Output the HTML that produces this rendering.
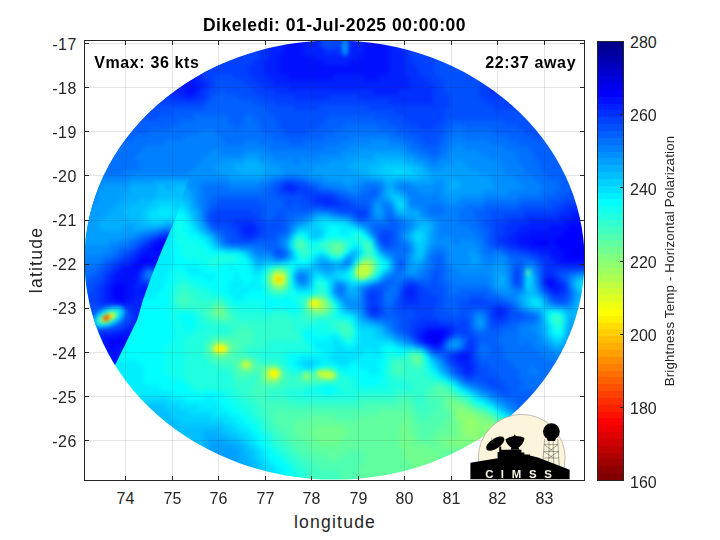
<!DOCTYPE html>
<html><head><meta charset="utf-8"><title>plot</title>
<style>
html,body{margin:0;padding:0;background:#fff;overflow:hidden;}
body{width:720px;height:540px;position:relative;overflow:hidden;font-family:"Liberation Sans",sans-serif;color:#262626;}
svg{position:absolute;left:0;top:0;}
.t{position:absolute;white-space:nowrap;line-height:20px;font-size:16px;}
.xt{top:489px;width:40px;text-align:center;}
.yt{left:29.2px;width:47.5px;text-align:right;letter-spacing:0.4px;}
.ct{left:630px;}
.b{font-weight:bold;color:#000;}
</style></head><body>
<svg width="720" height="540" viewBox="0 0 720 540">
<defs>
<clipPath id="ell"><ellipse cx="334.5" cy="260.0" rx="250.0" ry="219.6"/></clipPath>
<clipPath id="lsw"><polygon points="60,50 226,50 222.7,72 219,103 208,135 196,162 187.9,180 175.7,218.2 161.9,250 150.6,278.5 143,300 137.2,320 115.1,364.9 108,385 60,385"/></clipPath>
<filter id="bl" x="-5%" y="-5%" width="110%" height="110%" color-interpolation-filters="sRGB"><feGaussianBlur stdDeviation="2.2"/></filter>
<filter id="sb" x="-50%" y="-50%" width="200%" height="200%" color-interpolation-filters="sRGB"><feGaussianBlur stdDeviation="2.2"/></filter>
<linearGradient id="cb" x1="0" y1="0" x2="0" y2="1"><stop offset="0.000" stop-color="#000080"/><stop offset="0.125" stop-color="#0000ff"/><stop offset="0.375" stop-color="#00ffff"/><stop offset="0.625" stop-color="#ffff00"/><stop offset="0.875" stop-color="#ff0000"/><stop offset="1.000" stop-color="#800000"/></linearGradient>
</defs>
<g clip-path="url(#ell)">
<g filter="url(#bl)">
<g transform="translate(64,20) scale(5)" shape-rendering="crispEdges">
<path fill="#0000ef" d="M102 46h6v1h-6zM73 63h2v1h-2zM74 64h1v1h-1z"/>
<path fill="#0000ff" d="M101 41h7v1h-7zM100 42h8v1h-8zM99 43h9v1h-9zM94 44h3v1h-3zM98 44h10v1h-10zM99 45h9v1h-9zM100 46h2v1h-2zM100 47h8v1h-8zM97 52h1v1h-1zM73 62h3v1h-3zM72 63h1v1h-1zM75 63h1v1h-1zM73 64h1v1h-1z"/>
<path fill="#0010ff" d="M44 0h4v1h-4zM60 0h5v1h-5zM44 1h4v1h-4zM60 1h5v1h-5zM44 2h4v1h-4zM60 2h5v1h-5zM44 3h4v1h-4zM60 3h5v1h-5zM44 4h4v1h-4zM60 4h5v1h-5zM44 5h4v1h-4zM60 5h5v1h-5zM44 6h4v1h-4zM60 6h5v1h-5zM43 7h7v1h-7zM59 7h6v1h-6zM43 8h9v1h-9zM57 8h8v1h-8zM43 9h22v1h-22zM43 10h22v1h-22zM45 11h9v1h-9zM60 11h3v1h-3zM24 12h2v1h-2zM24 13h3v1h-3zM24 14h2v1h-2zM102 39h6v1h-6zM100 40h8v1h-8zM97 41h4v1h-4zM93 42h7v1h-7zM91 43h8v1h-8zM91 44h3v1h-3zM97 44h1v1h-1zM93 45h6v1h-6zM97 46h3v1h-3zM98 47h2v1h-2zM99 48h9v1h-9zM96 52h1v1h-1zM97 53h2v1h-2zM72 62h1v1h-1zM76 62h1v1h-1zM71 63h1v1h-1zM72 64h1v1h-1zM75 64h1v1h-1zM79 67h2v1h-2z"/>
<path fill="#0020ff" d="M13 0h5v1h-5zM41 0h3v1h-3zM48 0h3v1h-3zM57 0h3v1h-3zM65 0h2v1h-2zM13 1h5v1h-5zM41 1h3v1h-3zM48 1h3v1h-3zM57 1h3v1h-3zM65 1h2v1h-2zM13 2h5v1h-5zM41 2h3v1h-3zM48 2h3v1h-3zM57 2h3v1h-3zM65 2h2v1h-2zM13 3h5v1h-5zM41 3h3v1h-3zM48 3h3v1h-3zM57 3h3v1h-3zM65 3h2v1h-2zM13 4h5v1h-5zM41 4h3v1h-3zM48 4h3v1h-3zM57 4h3v1h-3zM65 4h2v1h-2zM13 5h5v1h-5zM41 5h3v1h-3zM48 5h4v1h-4zM56 5h4v1h-4zM65 5h2v1h-2zM14 6h5v1h-5zM41 6h3v1h-3zM48 6h4v1h-4zM56 6h4v1h-4zM65 6h3v1h-3zM15 7h5v1h-5zM41 7h2v1h-2zM50 7h9v1h-9zM65 7h3v1h-3zM16 8h6v1h-6zM40 8h3v1h-3zM52 8h5v1h-5zM65 8h3v1h-3zM17 9h6v1h-6zM40 9h3v1h-3zM65 9h3v1h-3zM18 10h7v1h-7zM40 10h3v1h-3zM65 10h3v1h-3zM19 11h8v1h-8zM41 11h4v1h-4zM54 11h6v1h-6zM63 11h6v1h-6zM20 12h4v1h-4zM26 12h2v1h-2zM42 12h27v1h-27zM21 13h3v1h-3zM27 13h1v1h-1zM45 13h24v1h-24zM22 14h2v1h-2zM26 14h1v1h-1zM62 14h5v1h-5zM24 15h2v1h-2zM44 33h2v1h-2zM52 36h1v1h-1zM101 38h7v1h-7zM99 39h3v1h-3zM93 40h7v1h-7zM36 41h2v1h-2zM91 41h6v1h-6zM36 42h2v1h-2zM90 42h3v1h-3zM89 43h2v1h-2zM89 44h2v1h-2zM91 45h2v1h-2zM95 46h2v1h-2zM97 47h1v1h-1zM98 48h1v1h-1zM96 51h2v1h-2zM98 52h1v1h-1zM69 53h1v1h-1zM99 53h1v1h-1zM68 54h2v1h-2zM98 54h1v1h-1zM69 55h1v1h-1zM86 58h2v1h-2zM72 61h5v1h-5zM71 62h1v1h-1zM77 62h1v1h-1zM76 63h1v1h-1zM74 65h1v1h-1zM80 66h1v1h-1zM78 67h1v1h-1zM79 68h2v1h-2zM80 69h2v1h-2zM80 70h1v1h-1z"/>
<path fill="#0030ff" d="M10 0h3v1h-3zM18 0h7v1h-7zM39 0h2v1h-2zM51 0h6v1h-6zM67 0h2v1h-2zM90 0h8v1h-8zM10 1h3v1h-3zM18 1h7v1h-7zM39 1h2v1h-2zM51 1h6v1h-6zM67 1h2v1h-2zM90 1h8v1h-8zM10 2h3v1h-3zM18 2h7v1h-7zM39 2h2v1h-2zM51 2h6v1h-6zM67 2h2v1h-2zM90 2h8v1h-8zM10 3h3v1h-3zM18 3h7v1h-7zM39 3h2v1h-2zM51 3h6v1h-6zM67 3h2v1h-2zM90 3h8v1h-8zM10 4h3v1h-3zM18 4h7v1h-7zM39 4h2v1h-2zM51 4h6v1h-6zM67 4h2v1h-2zM90 4h8v1h-8zM10 5h3v1h-3zM18 5h7v1h-7zM39 5h2v1h-2zM52 5h4v1h-4zM67 5h2v1h-2zM90 5h8v1h-8zM10 6h4v1h-4zM19 6h7v1h-7zM39 6h2v1h-2zM52 6h4v1h-4zM68 6h1v1h-1zM90 6h8v1h-8zM11 7h4v1h-4zM20 7h6v1h-6zM39 7h2v1h-2zM68 7h1v1h-1zM89 7h8v1h-8zM12 8h4v1h-4zM22 8h5v1h-5zM38 8h2v1h-2zM68 8h2v1h-2zM88 8h8v1h-8zM14 9h3v1h-3zM23 9h4v1h-4zM37 9h3v1h-3zM68 9h3v1h-3zM88 9h6v1h-6zM15 10h3v1h-3zM25 10h3v1h-3zM37 10h3v1h-3zM68 10h3v1h-3zM87 10h6v1h-6zM16 11h3v1h-3zM27 11h1v1h-1zM38 11h3v1h-3zM69 11h3v1h-3zM86 11h6v1h-6zM17 12h3v1h-3zM28 12h1v1h-1zM39 12h3v1h-3zM69 12h4v1h-4zM85 12h6v1h-6zM18 13h3v1h-3zM28 13h1v1h-1zM40 13h5v1h-5zM69 13h5v1h-5zM85 13h4v1h-4zM19 14h3v1h-3zM27 14h1v1h-1zM42 14h20v1h-20zM67 14h7v1h-7zM85 14h4v1h-4zM21 15h3v1h-3zM26 15h2v1h-2zM46 15h7v1h-7zM59 15h15v1h-15zM65 16h9v1h-9zM46 33h1v1h-1zM45 34h1v1h-1zM50 35h4v1h-4zM50 36h2v1h-2zM53 36h2v1h-2zM103 36h5v1h-5zM100 37h8v1h-8zM99 38h2v1h-2zM92 39h7v1h-7zM34 40h4v1h-4zM89 40h4v1h-4zM35 41h1v1h-1zM38 41h1v1h-1zM88 41h3v1h-3zM35 42h1v1h-1zM38 42h1v1h-1zM88 42h2v1h-2zM36 43h2v1h-2zM87 43h2v1h-2zM87 44h2v1h-2zM89 45h2v1h-2zM93 46h2v1h-2zM95 47h2v1h-2zM96 48h2v1h-2zM96 49h12v1h-12zM96 50h2v1h-2zM98 51h1v1h-1zM99 52h1v1h-1zM68 53h1v1h-1zM70 53h1v1h-1zM96 53h1v1h-1zM70 54h1v1h-1zM97 54h1v1h-1zM99 54h1v1h-1zM61 55h1v1h-1zM68 55h1v1h-1zM70 55h1v1h-1zM68 56h3v1h-3zM61 57h2v1h-2zM86 57h2v1h-2zM61 58h2v1h-2zM88 58h1v1h-1zM86 59h2v1h-2zM71 60h4v1h-4zM70 61h2v1h-2zM77 61h1v1h-1zM70 62h1v1h-1zM70 63h1v1h-1zM71 64h1v1h-1zM81 64h1v1h-1zM73 65h1v1h-1zM75 65h1v1h-1zM81 65h1v1h-1zM79 66h1v1h-1zM81 66h1v1h-1zM77 67h1v1h-1zM81 67h1v1h-1zM78 68h1v1h-1zM81 68h1v1h-1zM79 69h1v1h-1zM81 70h1v1h-1z"/>
<path fill="#0040ff" d="M7 0h3v1h-3zM25 0h14v1h-14zM69 0h7v1h-7zM84 0h6v1h-6zM98 0h10v1h-10zM7 1h3v1h-3zM25 1h14v1h-14zM69 1h7v1h-7zM84 1h6v1h-6zM98 1h10v1h-10zM7 2h3v1h-3zM25 2h14v1h-14zM69 2h7v1h-7zM84 2h6v1h-6zM98 2h10v1h-10zM7 3h3v1h-3zM25 3h14v1h-14zM69 3h8v1h-8zM84 3h6v1h-6zM98 3h10v1h-10zM7 4h3v1h-3zM25 4h14v1h-14zM69 4h8v1h-8zM84 4h6v1h-6zM98 4h10v1h-10zM7 5h3v1h-3zM25 5h14v1h-14zM69 5h7v1h-7zM84 5h6v1h-6zM98 5h10v1h-10zM7 6h3v1h-3zM26 6h13v1h-13zM69 6h7v1h-7zM83 6h7v1h-7zM98 6h10v1h-10zM8 7h3v1h-3zM26 7h13v1h-13zM69 7h6v1h-6zM82 7h7v1h-7zM97 7h11v1h-11zM9 8h3v1h-3zM27 8h11v1h-11zM70 8h4v1h-4zM81 8h7v1h-7zM96 8h12v1h-12zM10 9h4v1h-4zM27 9h10v1h-10zM71 9h3v1h-3zM81 9h7v1h-7zM94 9h14v1h-14zM11 10h4v1h-4zM28 10h9v1h-9zM71 10h3v1h-3zM82 10h5v1h-5zM93 10h8v1h-8zM12 11h4v1h-4zM28 11h2v1h-2zM34 11h4v1h-4zM72 11h3v1h-3zM82 11h4v1h-4zM92 11h8v1h-8zM13 12h4v1h-4zM29 12h1v1h-1zM36 12h3v1h-3zM73 12h3v1h-3zM83 12h2v1h-2zM91 12h8v1h-8zM14 13h4v1h-4zM29 13h1v1h-1zM37 13h3v1h-3zM74 13h2v1h-2zM83 13h2v1h-2zM89 13h9v1h-9zM16 14h3v1h-3zM28 14h1v1h-1zM38 14h4v1h-4zM74 14h2v1h-2zM83 14h2v1h-2zM89 14h8v1h-8zM17 15h4v1h-4zM28 15h1v1h-1zM40 15h6v1h-6zM53 15h6v1h-6zM74 15h3v1h-3zM83 15h12v1h-12zM18 16h10v1h-10zM42 16h23v1h-23zM74 16h3v1h-3zM84 16h9v1h-9zM46 17h5v1h-5zM61 17h16v1h-16zM86 17h6v1h-6zM66 18h10v1h-10zM68 19h8v1h-8zM69 20h6v1h-6zM71 21h3v1h-3zM44 32h2v1h-2zM43 33h1v1h-1zM47 33h2v1h-2zM43 34h2v1h-2zM46 34h5v1h-5zM48 35h2v1h-2zM54 35h1v1h-1zM103 35h5v1h-5zM49 36h1v1h-1zM55 36h2v1h-2zM100 36h3v1h-3zM52 37h6v1h-6zM98 37h2v1h-2zM30 38h8v1h-8zM58 38h3v1h-3zM92 38h7v1h-7zM29 39h10v1h-10zM59 39h1v1h-1zM88 39h4v1h-4zM30 40h4v1h-4zM38 40h2v1h-2zM86 40h3v1h-3zM33 41h2v1h-2zM39 41h1v1h-1zM86 41h2v1h-2zM34 42h1v1h-1zM39 42h1v1h-1zM64 42h1v1h-1zM86 42h2v1h-2zM35 43h1v1h-1zM38 43h1v1h-1zM63 43h2v1h-2zM86 43h1v1h-1zM64 44h1v1h-1zM86 44h1v1h-1zM88 45h1v1h-1zM91 46h2v1h-2zM94 47h1v1h-1zM95 48h1v1h-1zM90 50h1v1h-1zM98 50h1v1h-1zM90 51h1v1h-1zM69 52h1v1h-1zM90 52h1v1h-1zM71 53h1v1h-1zM100 53h1v1h-1zM61 54h2v1h-2zM67 54h1v1h-1zM71 54h2v1h-2zM100 54h1v1h-1zM62 55h1v1h-1zM67 55h1v1h-1zM71 55h4v1h-4zM98 55h2v1h-2zM61 56h2v1h-2zM67 56h1v1h-1zM71 56h4v1h-4zM81 56h4v1h-4zM67 57h7v1h-7zM85 57h1v1h-1zM88 57h1v1h-1zM63 58h1v1h-1zM70 58h4v1h-4zM85 58h1v1h-1zM70 59h5v1h-5zM85 59h1v1h-1zM88 59h1v1h-1zM69 60h2v1h-2zM75 60h3v1h-3zM79 60h2v1h-2zM86 60h2v1h-2zM69 61h1v1h-1zM78 61h3v1h-3zM69 62h1v1h-1zM78 62h3v1h-3zM81 63h1v1h-1zM80 65h1v1h-1zM78 66h1v1h-1zM77 68h1v1h-1zM82 68h1v1h-1zM78 69h1v1h-1zM82 69h1v1h-1zM79 70h1v1h-1zM82 70h1v1h-1zM80 71h2v1h-2zM85 72h1v1h-1z"/>
<path fill="#0050ff" d="M0 0h7v1h-7zM76 0h8v1h-8zM0 1h7v1h-7zM76 1h8v1h-8zM0 2h7v1h-7zM76 2h8v1h-8zM0 3h7v1h-7zM77 3h7v1h-7zM0 4h7v1h-7zM77 4h7v1h-7zM0 5h7v1h-7zM76 5h8v1h-8zM0 6h7v1h-7zM76 6h7v1h-7zM0 7h8v1h-8zM75 7h7v1h-7zM0 8h9v1h-9zM74 8h7v1h-7zM0 9h10v1h-10zM74 9h7v1h-7zM0 10h11v1h-11zM74 10h8v1h-8zM101 10h7v1h-7zM5 11h7v1h-7zM30 11h4v1h-4zM75 11h7v1h-7zM100 11h8v1h-8zM7 12h6v1h-6zM30 12h6v1h-6zM76 12h7v1h-7zM99 12h9v1h-9zM8 13h6v1h-6zM30 13h7v1h-7zM76 13h7v1h-7zM98 13h10v1h-10zM9 14h7v1h-7zM29 14h2v1h-2zM32 14h6v1h-6zM76 14h7v1h-7zM97 14h11v1h-11zM10 15h7v1h-7zM29 15h1v1h-1zM35 15h5v1h-5zM77 15h6v1h-6zM95 15h13v1h-13zM12 16h6v1h-6zM28 16h1v1h-1zM38 16h4v1h-4zM77 16h7v1h-7zM93 16h15v1h-15zM13 17h15v1h-15zM40 17h6v1h-6zM51 17h10v1h-10zM77 17h9v1h-9zM92 17h16v1h-16zM15 18h7v1h-7zM41 18h25v1h-25zM76 18h32v1h-32zM16 19h3v1h-3zM42 19h11v1h-11zM62 19h6v1h-6zM76 19h26v1h-26zM43 20h9v1h-9zM65 20h4v1h-4zM75 20h2v1h-2zM88 20h12v1h-12zM43 21h8v1h-8zM67 21h4v1h-4zM74 21h2v1h-2zM91 21h8v1h-8zM44 22h5v1h-5zM69 22h7v1h-7zM92 22h5v1h-5zM71 23h4v1h-4zM94 23h2v1h-2zM72 24h3v1h-3zM43 32h1v1h-1zM46 32h2v1h-2zM42 33h1v1h-1zM49 33h1v1h-1zM42 34h1v1h-1zM51 34h3v1h-3zM101 34h7v1h-7zM43 35h5v1h-5zM55 35h1v1h-1zM99 35h4v1h-4zM31 36h8v1h-8zM44 36h5v1h-5zM57 36h1v1h-1zM97 36h3v1h-3zM30 37h10v1h-10zM44 37h2v1h-2zM47 37h5v1h-5zM58 37h3v1h-3zM91 37h7v1h-7zM29 38h1v1h-1zM38 38h2v1h-2zM43 38h1v1h-1zM55 38h3v1h-3zM85 38h7v1h-7zM39 39h1v1h-1zM42 39h2v1h-2zM58 39h1v1h-1zM60 39h1v1h-1zM85 39h3v1h-3zM29 40h1v1h-1zM40 40h4v1h-4zM84 40h2v1h-2zM30 41h3v1h-3zM40 41h4v1h-4zM85 41h1v1h-1zM32 42h2v1h-2zM40 42h3v1h-3zM63 42h1v1h-1zM65 42h1v1h-1zM85 42h1v1h-1zM33 43h2v1h-2zM39 43h3v1h-3zM65 43h1v1h-1zM85 43h1v1h-1zM33 44h5v1h-5zM63 44h1v1h-1zM65 44h1v1h-1zM85 44h1v1h-1zM64 45h1v1h-1zM86 45h2v1h-2zM42 46h2v1h-2zM89 46h2v1h-2zM93 47h1v1h-1zM67 48h1v1h-1zM90 49h1v1h-1zM95 49h1v1h-1zM74 50h1v1h-1zM95 50h1v1h-1zM99 50h2v1h-2zM74 51h1v1h-1zM95 51h1v1h-1zM99 51h1v1h-1zM68 52h1v1h-1zM70 52h1v1h-1zM73 52h2v1h-2zM95 52h1v1h-1zM100 52h1v1h-1zM61 53h3v1h-3zM67 53h1v1h-1zM72 53h4v1h-4zM60 54h1v1h-1zM63 54h1v1h-1zM73 54h3v1h-3zM96 54h1v1h-1zM60 55h1v1h-1zM63 55h1v1h-1zM75 55h1v1h-1zM81 55h3v1h-3zM97 55h1v1h-1zM100 55h1v1h-1zM60 56h1v1h-1zM63 56h1v1h-1zM66 56h1v1h-1zM75 56h1v1h-1zM79 56h2v1h-2zM85 56h3v1h-3zM99 56h1v1h-1zM60 57h1v1h-1zM63 57h1v1h-1zM66 57h1v1h-1zM74 57h2v1h-2zM79 57h6v1h-6zM89 57h1v1h-1zM66 58h4v1h-4zM74 58h3v1h-3zM79 58h2v1h-2zM89 58h2v1h-2zM62 59h1v1h-1zM67 59h3v1h-3zM75 59h6v1h-6zM89 59h3v1h-3zM67 60h2v1h-2zM78 60h1v1h-1zM85 60h1v1h-1zM88 60h1v1h-1zM67 61h2v1h-2zM85 61h2v1h-2zM68 62h1v1h-1zM81 62h1v1h-1zM69 63h1v1h-1zM77 63h1v1h-1zM80 63h1v1h-1zM82 63h1v1h-1zM70 64h1v1h-1zM80 64h1v1h-1zM82 64h1v1h-1zM82 65h1v1h-1zM74 66h4v1h-4zM82 66h1v1h-1zM76 67h1v1h-1zM82 67h1v1h-1zM83 69h2v1h-2zM78 70h1v1h-1zM83 70h3v1h-3zM82 71h5v1h-5zM83 72h2v1h-2zM86 72h2v1h-2zM85 73h4v1h-4zM87 74h2v1h-2z"/>
<path fill="#0060ff" d="M0 11h5v1h-5zM0 12h7v1h-7zM0 13h8v1h-8zM0 14h9v1h-9zM31 14h1v1h-1zM0 15h10v1h-10zM30 15h5v1h-5zM0 16h12v1h-12zM29 16h9v1h-9zM0 17h13v1h-13zM28 17h12v1h-12zM0 18h15v1h-15zM22 18h19v1h-19zM0 19h16v1h-16zM19 19h7v1h-7zM33 19h3v1h-3zM38 19h4v1h-4zM53 19h9v1h-9zM102 19h6v1h-6zM0 20h23v1h-23zM33 20h3v1h-3zM39 20h4v1h-4zM52 20h13v1h-13zM77 20h11v1h-11zM100 20h8v1h-8zM0 21h21v1h-21zM34 21h1v1h-1zM39 21h4v1h-4zM51 21h5v1h-5zM63 21h4v1h-4zM76 21h2v1h-2zM80 21h11v1h-11zM99 21h9v1h-9zM0 22h17v1h-17zM40 22h4v1h-4zM49 22h5v1h-5zM66 22h3v1h-3zM76 22h1v1h-1zM86 22h6v1h-6zM97 22h11v1h-11zM0 23h14v1h-14zM42 23h10v1h-10zM68 23h3v1h-3zM75 23h1v1h-1zM89 23h5v1h-5zM96 23h12v1h-12zM6 24h5v1h-5zM45 24h3v1h-3zM70 24h2v1h-2zM75 24h1v1h-1zM91 24h17v1h-17zM7 25h3v1h-3zM71 25h4v1h-4zM93 25h15v1h-15zM8 26h2v1h-2zM73 26h2v1h-2zM94 26h14v1h-14zM94 27h14v1h-14zM95 28h13v1h-13zM95 29h13v1h-13zM96 30h12v1h-12zM97 31h11v1h-11zM42 32h1v1h-1zM48 32h1v1h-1zM99 32h9v1h-9zM41 33h1v1h-1zM50 33h1v1h-1zM99 33h9v1h-9zM40 34h2v1h-2zM54 34h1v1h-1zM61 34h2v1h-2zM98 34h3v1h-3zM30 35h13v1h-13zM56 35h2v1h-2zM59 35h3v1h-3zM96 35h3v1h-3zM29 36h2v1h-2zM39 36h5v1h-5zM58 36h3v1h-3zM91 36h6v1h-6zM29 37h1v1h-1zM40 37h4v1h-4zM46 37h1v1h-1zM84 37h7v1h-7zM28 38h1v1h-1zM40 38h3v1h-3zM44 38h5v1h-5zM54 38h1v1h-1zM82 38h3v1h-3zM28 39h1v1h-1zM40 39h2v1h-2zM44 39h2v1h-2zM65 39h1v1h-1zM82 39h3v1h-3zM44 40h1v1h-1zM65 40h2v1h-2zM83 40h1v1h-1zM29 41h1v1h-1zM44 41h1v1h-1zM62 41h5v1h-5zM83 41h2v1h-2zM31 42h1v1h-1zM43 42h2v1h-2zM62 42h1v1h-1zM66 42h1v1h-1zM84 42h1v1h-1zM32 43h1v1h-1zM42 43h1v1h-1zM66 43h1v1h-1zM84 43h1v1h-1zM32 44h1v1h-1zM38 44h5v1h-5zM66 44h1v1h-1zM84 44h1v1h-1zM40 45h3v1h-3zM65 45h2v1h-2zM85 45h1v1h-1zM88 46h1v1h-1zM43 47h1v1h-1zM74 47h2v1h-2zM89 47h4v1h-4zM74 48h2v1h-2zM90 48h2v1h-2zM94 48h1v1h-1zM67 49h1v1h-1zM74 49h2v1h-2zM91 49h1v1h-1zM73 50h1v1h-1zM75 50h1v1h-1zM91 50h1v1h-1zM101 50h2v1h-2zM73 51h1v1h-1zM75 51h1v1h-1zM91 51h1v1h-1zM100 51h1v1h-1zM64 52h2v1h-2zM67 52h1v1h-1zM71 52h2v1h-2zM75 52h1v1h-1zM91 52h1v1h-1zM64 53h1v1h-1zM76 53h1v1h-1zM90 53h1v1h-1zM95 53h1v1h-1zM76 54h1v1h-1zM79 54h6v1h-6zM66 55h1v1h-1zM76 55h5v1h-5zM84 55h3v1h-3zM76 56h3v1h-3zM88 56h1v1h-1zM98 56h1v1h-1zM100 56h1v1h-1zM64 57h2v1h-2zM76 57h3v1h-3zM60 58h1v1h-1zM64 58h2v1h-2zM77 58h2v1h-2zM81 58h1v1h-1zM84 58h1v1h-1zM91 58h1v1h-1zM61 59h1v1h-1zM63 59h4v1h-4zM81 59h1v1h-1zM92 59h2v1h-2zM66 60h1v1h-1zM81 60h1v1h-1zM89 60h2v1h-2zM66 61h1v1h-1zM81 61h1v1h-1zM87 61h3v1h-3zM67 62h1v1h-1zM82 62h1v1h-1zM84 62h4v1h-4zM79 63h1v1h-1zM83 63h4v1h-4zM76 64h1v1h-1zM83 64h4v1h-4zM72 65h1v1h-1zM85 65h3v1h-3zM85 66h3v1h-3zM83 67h5v1h-5zM76 68h1v1h-1zM83 68h6v1h-6zM77 69h1v1h-1zM85 69h5v1h-5zM86 70h5v1h-5zM79 71h1v1h-1zM87 71h4v1h-4zM81 72h2v1h-2zM88 72h4v1h-4zM84 73h1v1h-1zM89 73h2v1h-2zM86 74h1v1h-1zM89 74h10v1h-10zM88 75h11v1h-11zM90 76h9v1h-9zM91 77h3v1h-3zM97 77h2v1h-2z"/>
<path fill="#0070ff" d="M26 19h7v1h-7zM36 19h2v1h-2zM23 20h10v1h-10zM36 20h3v1h-3zM21 21h13v1h-13zM35 21h4v1h-4zM56 21h7v1h-7zM78 21h2v1h-2zM17 22h10v1h-10zM30 22h10v1h-10zM54 22h12v1h-12zM77 22h9v1h-9zM14 23h10v1h-10zM31 23h11v1h-11zM52 23h5v1h-5zM65 23h3v1h-3zM76 23h2v1h-2zM80 23h9v1h-9zM0 24h6v1h-6zM11 24h9v1h-9zM32 24h4v1h-4zM39 24h6v1h-6zM48 24h7v1h-7zM68 24h2v1h-2zM76 24h1v1h-1zM85 24h6v1h-6zM0 25h7v1h-7zM10 25h6v1h-6zM41 25h11v1h-11zM69 25h2v1h-2zM75 25h2v1h-2zM88 25h5v1h-5zM0 26h8v1h-8zM10 26h5v1h-5zM71 26h2v1h-2zM75 26h1v1h-1zM90 26h4v1h-4zM0 27h14v1h-14zM73 27h2v1h-2zM91 27h3v1h-3zM0 28h15v1h-15zM91 28h4v1h-4zM0 29h14v1h-14zM92 29h3v1h-3zM0 30h14v1h-14zM92 30h4v1h-4zM0 31h14v1h-14zM44 31h3v1h-3zM94 31h3v1h-3zM0 32h14v1h-14zM41 32h1v1h-1zM49 32h2v1h-2zM95 32h4v1h-4zM0 33h13v1h-13zM28 33h5v1h-5zM39 33h2v1h-2zM51 33h2v1h-2zM60 33h3v1h-3zM96 33h3v1h-3zM0 34h11v1h-11zM28 34h12v1h-12zM55 34h2v1h-2zM59 34h2v1h-2zM95 34h3v1h-3zM0 35h9v1h-9zM28 35h2v1h-2zM58 35h1v1h-1zM62 35h1v1h-1zM91 35h5v1h-5zM0 36h8v1h-8zM28 36h1v1h-1zM61 36h1v1h-1zM84 36h7v1h-7zM0 37h7v1h-7zM28 37h1v1h-1zM61 37h1v1h-1zM64 37h1v1h-1zM73 37h3v1h-3zM80 37h4v1h-4zM49 38h1v1h-1zM53 38h1v1h-1zM61 38h1v1h-1zM64 38h2v1h-2zM73 38h3v1h-3zM79 38h3v1h-3zM46 39h2v1h-2zM57 39h1v1h-1zM61 39h1v1h-1zM64 39h1v1h-1zM79 39h3v1h-3zM28 40h1v1h-1zM45 40h1v1h-1zM59 40h6v1h-6zM67 40h1v1h-1zM79 40h4v1h-4zM61 41h1v1h-1zM67 41h1v1h-1zM81 41h2v1h-2zM30 42h1v1h-1zM82 42h2v1h-2zM31 43h1v1h-1zM43 43h1v1h-1zM62 43h1v1h-1zM83 43h1v1h-1zM67 44h1v1h-1zM38 45h2v1h-2zM43 45h1v1h-1zM63 45h1v1h-1zM67 45h2v1h-2zM84 45h1v1h-1zM41 46h1v1h-1zM44 46h1v1h-1zM65 46h4v1h-4zM74 46h2v1h-2zM84 46h2v1h-2zM87 46h1v1h-1zM42 47h1v1h-1zM66 47h2v1h-2zM73 47h1v1h-1zM66 48h1v1h-1zM73 48h1v1h-1zM89 48h1v1h-1zM92 48h2v1h-2zM66 49h1v1h-1zM73 49h1v1h-1zM76 49h1v1h-1zM89 49h1v1h-1zM94 49h1v1h-1zM66 50h2v1h-2zM72 50h1v1h-1zM76 50h1v1h-1zM89 50h1v1h-1zM103 50h5v1h-5zM47 51h1v1h-1zM65 51h2v1h-2zM68 51h2v1h-2zM71 51h2v1h-2zM76 51h1v1h-1zM89 51h1v1h-1zM63 52h1v1h-1zM66 52h1v1h-1zM76 52h2v1h-2zM89 52h1v1h-1zM55 53h1v1h-1zM60 53h1v1h-1zM65 53h2v1h-2zM77 53h8v1h-8zM91 53h1v1h-1zM55 54h1v1h-1zM64 54h3v1h-3zM77 54h2v1h-2zM85 54h1v1h-1zM101 54h1v1h-1zM64 55h2v1h-2zM87 55h1v1h-1zM101 55h1v1h-1zM64 56h2v1h-2zM89 56h1v1h-1zM97 56h1v1h-1zM90 57h1v1h-1zM82 58h2v1h-2zM92 58h1v1h-1zM84 59h1v1h-1zM94 59h1v1h-1zM64 60h2v1h-2zM84 60h1v1h-1zM91 60h3v1h-3zM65 61h1v1h-1zM84 61h1v1h-1zM90 61h1v1h-1zM66 62h1v1h-1zM83 62h1v1h-1zM88 62h3v1h-3zM68 63h1v1h-1zM78 63h1v1h-1zM87 63h4v1h-4zM87 64h4v1h-4zM92 64h1v1h-1zM76 65h1v1h-1zM79 65h1v1h-1zM83 65h2v1h-2zM88 65h6v1h-6zM73 66h1v1h-1zM83 66h2v1h-2zM88 66h7v1h-7zM75 67h1v1h-1zM88 67h8v1h-8zM89 68h10v1h-10zM90 69h3v1h-3zM94 69h5v1h-5zM77 70h1v1h-1zM91 70h2v1h-2zM95 70h4v1h-4zM91 71h9v1h-9zM80 72h1v1h-1zM92 72h8v1h-8zM83 73h1v1h-1zM91 73h10v1h-10zM85 74h1v1h-1zM99 74h2v1h-2zM87 75h1v1h-1zM99 75h2v1h-2zM89 76h1v1h-1zM99 76h2v1h-2zM90 77h1v1h-1zM94 77h3v1h-3zM99 77h2v1h-2zM103 77h5v1h-5zM91 78h17v1h-17zM100 79h8v1h-8zM100 80h8v1h-8zM100 81h8v1h-8zM99 82h9v1h-9zM99 83h9v1h-9zM100 84h8v1h-8zM101 85h7v1h-7zM102 86h6v1h-6z"/>
<path fill="#0080ff" d="M27 22h3v1h-3zM24 23h7v1h-7zM57 23h8v1h-8zM78 23h2v1h-2zM20 24h12v1h-12zM36 24h3v1h-3zM55 24h6v1h-6zM65 24h3v1h-3zM77 24h8v1h-8zM16 25h25v1h-25zM52 25h5v1h-5zM68 25h1v1h-1zM77 25h1v1h-1zM80 25h8v1h-8zM15 26h14v1h-14zM31 26h5v1h-5zM40 26h15v1h-15zM69 26h2v1h-2zM76 26h1v1h-1zM83 26h7v1h-7zM14 27h14v1h-14zM42 27h9v1h-9zM71 27h2v1h-2zM75 27h2v1h-2zM85 27h6v1h-6zM15 28h12v1h-12zM46 28h1v1h-1zM73 28h2v1h-2zM87 28h4v1h-4zM14 29h12v1h-12zM88 29h4v1h-4zM14 30h11v1h-11zM88 30h4v1h-4zM14 31h8v1h-8zM42 31h2v1h-2zM47 31h2v1h-2zM90 31h4v1h-4zM14 32h3v1h-3zM27 32h6v1h-6zM39 32h2v1h-2zM51 32h1v1h-1zM60 32h3v1h-3zM91 32h4v1h-4zM13 33h3v1h-3zM27 33h1v1h-1zM33 33h6v1h-6zM53 33h3v1h-3zM58 33h2v1h-2zM63 33h1v1h-1zM67 33h3v1h-3zM92 33h4v1h-4zM11 34h4v1h-4zM27 34h1v1h-1zM57 34h2v1h-2zM63 34h1v1h-1zM68 34h3v1h-3zM74 34h1v1h-1zM89 34h6v1h-6zM9 35h4v1h-4zM27 35h1v1h-1zM69 35h6v1h-6zM84 35h7v1h-7zM8 36h3v1h-3zM27 36h1v1h-1zM64 36h1v1h-1zM69 36h7v1h-7zM79 36h5v1h-5zM7 37h2v1h-2zM27 37h1v1h-1zM65 37h1v1h-1zM71 37h2v1h-2zM76 37h4v1h-4zM0 38h8v1h-8zM50 38h3v1h-3zM72 38h1v1h-1zM76 38h3v1h-3zM48 39h1v1h-1zM66 39h1v1h-1zM73 39h6v1h-6zM46 40h1v1h-1zM68 40h1v1h-1zM75 40h4v1h-4zM45 41h1v1h-1zM68 41h1v1h-1zM75 41h6v1h-6zM61 42h1v1h-1zM67 42h1v1h-1zM75 42h7v1h-7zM44 43h1v1h-1zM67 43h1v1h-1zM75 43h1v1h-1zM77 43h6v1h-6zM31 44h1v1h-1zM43 44h1v1h-1zM68 44h1v1h-1zM78 44h1v1h-1zM82 44h2v1h-2zM35 45h3v1h-3zM74 45h2v1h-2zM83 45h1v1h-1zM38 46h3v1h-3zM64 46h1v1h-1zM73 46h1v1h-1zM76 46h1v1h-1zM83 46h1v1h-1zM86 46h1v1h-1zM44 47h1v1h-1zM68 47h1v1h-1zM76 47h1v1h-1zM84 47h2v1h-2zM88 47h1v1h-1zM56 48h1v1h-1zM68 48h1v1h-1zM72 48h1v1h-1zM76 48h1v1h-1zM84 48h2v1h-2zM88 48h1v1h-1zM68 49h1v1h-1zM72 49h1v1h-1zM77 49h1v1h-1zM71 50h1v1h-1zM77 50h2v1h-2zM94 50h1v1h-1zM64 51h1v1h-1zM67 51h1v1h-1zM70 51h1v1h-1zM77 51h8v1h-8zM101 51h1v1h-1zM47 52h1v1h-1zM78 52h7v1h-7zM54 53h1v1h-1zM85 53h1v1h-1zM89 53h1v1h-1zM101 53h1v1h-1zM54 54h1v1h-1zM59 54h1v1h-1zM86 54h1v1h-1zM90 54h1v1h-1zM95 54h1v1h-1zM59 55h1v1h-1zM88 55h2v1h-2zM96 55h1v1h-1zM59 56h1v1h-1zM90 56h1v1h-1zM101 56h1v1h-1zM59 57h1v1h-1zM93 58h1v1h-1zM60 59h1v1h-1zM63 60h1v1h-1zM94 60h1v1h-1zM82 61h1v1h-1zM91 61h2v1h-2zM91 62h3v1h-3zM67 63h1v1h-1zM91 63h4v1h-4zM69 64h1v1h-1zM79 64h1v1h-1zM91 64h1v1h-1zM93 64h2v1h-2zM94 65h3v1h-3zM101 65h1v1h-1zM95 66h3v1h-3zM101 66h2v1h-2zM96 67h12v1h-12zM99 68h9v1h-9zM76 69h1v1h-1zM93 69h1v1h-1zM99 69h9v1h-9zM93 70h2v1h-2zM99 70h9v1h-9zM78 71h1v1h-1zM100 71h8v1h-8zM100 72h8v1h-8zM82 73h1v1h-1zM101 73h7v1h-7zM84 74h1v1h-1zM101 74h7v1h-7zM86 75h1v1h-1zM101 75h7v1h-7zM88 76h1v1h-1zM101 76h7v1h-7zM89 77h1v1h-1zM101 77h2v1h-2zM90 78h1v1h-1zM93 79h7v1h-7zM95 80h2v1h-2zM99 80h1v1h-1zM95 81h2v1h-2zM98 81h2v1h-2zM96 82h3v1h-3zM97 83h2v1h-2zM98 84h2v1h-2zM99 85h2v1h-2zM100 86h2v1h-2zM101 87h7v1h-7z"/>
<path fill="#008fff" d="M61 24h4v1h-4zM57 25h11v1h-11zM78 25h2v1h-2zM29 26h2v1h-2zM36 26h4v1h-4zM55 26h4v1h-4zM68 26h1v1h-1zM77 26h6v1h-6zM28 27h8v1h-8zM39 27h3v1h-3zM51 27h5v1h-5zM70 27h1v1h-1zM77 27h8v1h-8zM27 28h5v1h-5zM41 28h5v1h-5zM47 28h6v1h-6zM72 28h1v1h-1zM75 28h3v1h-3zM80 28h7v1h-7zM26 29h4v1h-4zM43 29h7v1h-7zM73 29h3v1h-3zM81 29h7v1h-7zM25 30h6v1h-6zM44 30h5v1h-5zM83 30h5v1h-5zM22 31h11v1h-11zM40 31h2v1h-2zM49 31h3v1h-3zM85 31h5v1h-5zM17 32h5v1h-5zM25 32h2v1h-2zM33 32h6v1h-6zM52 32h4v1h-4zM58 32h2v1h-2zM63 32h1v1h-1zM67 32h2v1h-2zM74 32h2v1h-2zM86 32h5v1h-5zM16 33h5v1h-5zM25 33h2v1h-2zM56 33h2v1h-2zM66 33h1v1h-1zM70 33h6v1h-6zM86 33h6v1h-6zM15 34h2v1h-2zM26 34h1v1h-1zM71 34h3v1h-3zM75 34h1v1h-1zM84 34h5v1h-5zM13 35h3v1h-3zM26 35h1v1h-1zM63 35h1v1h-1zM75 35h2v1h-2zM79 35h5v1h-5zM11 36h2v1h-2zM26 36h1v1h-1zM62 36h2v1h-2zM76 36h3v1h-3zM9 37h3v1h-3zM63 37h1v1h-1zM69 37h2v1h-2zM8 38h2v1h-2zM27 38h1v1h-1zM71 38h1v1h-1zM0 39h8v1h-8zM27 39h1v1h-1zM49 39h1v1h-1zM55 39h2v1h-2zM62 39h2v1h-2zM67 39h1v1h-1zM72 39h1v1h-1zM47 40h1v1h-1zM58 40h1v1h-1zM69 40h1v1h-1zM74 40h1v1h-1zM28 41h1v1h-1zM60 41h1v1h-1zM69 41h1v1h-1zM74 41h1v1h-1zM29 42h1v1h-1zM45 42h1v1h-1zM68 42h1v1h-1zM74 42h1v1h-1zM30 43h1v1h-1zM74 43h1v1h-1zM76 43h1v1h-1zM62 44h1v1h-1zM74 44h4v1h-4zM79 44h3v1h-3zM33 45h2v1h-2zM44 45h1v1h-1zM69 45h1v1h-1zM73 45h1v1h-1zM76 45h7v1h-7zM69 46h1v1h-1zM77 46h4v1h-4zM82 46h1v1h-1zM39 47h1v1h-1zM41 47h1v1h-1zM65 47h1v1h-1zM72 47h1v1h-1zM77 47h4v1h-4zM83 47h1v1h-1zM86 47h2v1h-2zM77 48h4v1h-4zM83 48h1v1h-1zM86 48h2v1h-2zM52 49h1v1h-1zM71 49h1v1h-1zM78 49h8v1h-8zM88 49h1v1h-1zM92 49h2v1h-2zM47 50h1v1h-1zM65 50h1v1h-1zM68 50h1v1h-1zM70 50h1v1h-1zM79 50h7v1h-7zM88 50h1v1h-1zM46 51h1v1h-1zM48 51h1v1h-1zM85 51h1v1h-1zM94 51h1v1h-1zM48 52h1v1h-1zM62 52h1v1h-1zM85 52h1v1h-1zM94 52h1v1h-1zM101 52h1v1h-1zM59 53h1v1h-1zM87 54h3v1h-3zM91 54h1v1h-1zM55 55h2v1h-2zM90 55h1v1h-1zM56 56h3v1h-3zM57 57h2v1h-2zM91 57h1v1h-1zM100 57h1v1h-1zM59 58h1v1h-1zM94 58h1v1h-1zM82 59h2v1h-2zM62 60h1v1h-1zM82 60h1v1h-1zM64 61h1v1h-1zM83 61h1v1h-1zM93 61h2v1h-2zM65 62h1v1h-1zM94 62h1v1h-1zM101 62h1v1h-1zM66 63h1v1h-1zM95 63h1v1h-1zM101 63h2v1h-2zM68 64h1v1h-1zM77 64h1v1h-1zM95 64h1v1h-1zM101 64h2v1h-2zM104 64h4v1h-4zM71 65h1v1h-1zM77 65h2v1h-2zM100 65h1v1h-1zM102 65h6v1h-6zM98 66h3v1h-3zM103 66h5v1h-5zM74 67h1v1h-1zM75 68h1v1h-1zM79 72h1v1h-1zM81 73h1v1h-1zM83 74h1v1h-1zM85 75h1v1h-1zM87 76h1v1h-1zM88 77h1v1h-1zM92 79h1v1h-1zM93 80h2v1h-2zM97 80h2v1h-2zM94 81h1v1h-1zM97 81h1v1h-1zM94 82h2v1h-2zM95 83h2v1h-2zM96 84h2v1h-2zM98 85h1v1h-1zM99 86h1v1h-1zM100 87h1v1h-1zM101 88h7v1h-7zM102 89h6v1h-6zM103 90h5v1h-5z"/>
<path fill="#009fff" d="M59 26h9v1h-9zM36 27h3v1h-3zM56 27h6v1h-6zM68 27h2v1h-2zM32 28h4v1h-4zM39 28h2v1h-2zM53 28h5v1h-5zM70 28h2v1h-2zM78 28h2v1h-2zM30 29h4v1h-4zM40 29h3v1h-3zM50 29h7v1h-7zM72 29h1v1h-1zM76 29h5v1h-5zM31 30h4v1h-4zM40 30h4v1h-4zM49 30h10v1h-10zM73 30h10v1h-10zM33 31h7v1h-7zM52 31h9v1h-9zM73 31h12v1h-12zM22 32h3v1h-3zM56 32h2v1h-2zM66 32h1v1h-1zM69 32h5v1h-5zM76 32h1v1h-1zM79 32h7v1h-7zM21 33h1v1h-1zM24 33h1v1h-1zM64 33h1v1h-1zM76 33h1v1h-1zM79 33h7v1h-7zM17 34h5v1h-5zM25 34h1v1h-1zM67 34h1v1h-1zM76 34h8v1h-8zM16 35h2v1h-2zM25 35h1v1h-1zM64 35h1v1h-1zM68 35h1v1h-1zM77 35h2v1h-2zM13 36h3v1h-3zM65 36h1v1h-1zM12 37h2v1h-2zM26 37h1v1h-1zM62 37h1v1h-1zM10 38h2v1h-2zM62 38h2v1h-2zM66 38h1v1h-1zM8 39h1v1h-1zM54 39h1v1h-1zM68 39h2v1h-2zM71 39h1v1h-1zM0 40h7v1h-7zM27 40h1v1h-1zM48 40h1v1h-1zM70 40h1v1h-1zM73 40h1v1h-1zM46 41h1v1h-1zM73 42h1v1h-1zM68 43h1v1h-1zM73 43h1v1h-1zM44 44h1v1h-1zM69 44h1v1h-1zM73 44h1v1h-1zM32 45h1v1h-1zM37 46h1v1h-1zM63 46h1v1h-1zM72 46h1v1h-1zM81 46h1v1h-1zM38 47h1v1h-1zM40 47h1v1h-1zM57 47h1v1h-1zM69 47h1v1h-1zM81 47h2v1h-2zM51 48h2v1h-2zM57 48h1v1h-1zM69 48h1v1h-1zM71 48h1v1h-1zM81 48h2v1h-2zM51 49h1v1h-1zM53 49h1v1h-1zM55 49h2v1h-2zM69 49h2v1h-2zM86 49h2v1h-2zM48 50h1v1h-1zM69 50h1v1h-1zM86 50h2v1h-2zM92 50h1v1h-1zM86 51h1v1h-1zM88 51h1v1h-1zM102 51h1v1h-1zM105 51h2v1h-2zM54 52h2v1h-2zM86 52h1v1h-1zM88 52h1v1h-1zM56 53h1v1h-1zM86 53h3v1h-3zM94 53h1v1h-1zM56 54h1v1h-1zM102 54h1v1h-1zM57 55h2v1h-2zM102 55h1v1h-1zM105 55h3v1h-3zM91 56h1v1h-1zM96 56h1v1h-1zM56 57h1v1h-1zM98 57h2v1h-2zM101 57h1v1h-1zM59 59h1v1h-1zM95 59h1v1h-1zM61 60h1v1h-1zM83 60h1v1h-1zM95 60h1v1h-1zM101 60h1v1h-1zM95 61h1v1h-1zM101 61h2v1h-2zM64 62h1v1h-1zM95 62h1v1h-1zM102 62h1v1h-1zM105 62h3v1h-3zM103 63h5v1h-5zM78 64h1v1h-1zM96 64h1v1h-1zM100 64h1v1h-1zM103 64h1v1h-1zM97 65h1v1h-1zM99 65h1v1h-1zM75 69h1v1h-1zM76 70h1v1h-1zM77 71h1v1h-1zM86 76h1v1h-1zM89 78h1v1h-1zM91 79h1v1h-1zM93 81h1v1h-1zM93 82h1v1h-1zM94 83h1v1h-1zM29 84h3v1h-3zM95 84h1v1h-1zM29 85h5v1h-5zM96 85h2v1h-2zM29 86h6v1h-6zM97 86h2v1h-2zM29 87h6v1h-6zM98 87h2v1h-2zM29 88h6v1h-6zM99 88h2v1h-2zM30 89h3v1h-3zM100 89h2v1h-2zM100 90h3v1h-3zM101 91h7v1h-7zM101 92h7v1h-7zM101 93h7v1h-7zM101 94h7v1h-7zM101 95h7v1h-7z"/>
<path fill="#00afff" d="M62 27h6v1h-6zM36 28h3v1h-3zM58 28h5v1h-5zM68 28h2v1h-2zM34 29h6v1h-6zM57 29h4v1h-4zM71 29h1v1h-1zM35 30h5v1h-5zM59 30h2v1h-2zM72 30h1v1h-1zM61 31h3v1h-3zM71 31h2v1h-2zM64 32h2v1h-2zM77 32h2v1h-2zM22 33h2v1h-2zM65 33h1v1h-1zM77 33h2v1h-2zM22 34h3v1h-3zM64 34h1v1h-1zM66 34h1v1h-1zM18 35h4v1h-4zM24 35h1v1h-1zM16 36h2v1h-2zM25 36h1v1h-1zM68 36h1v1h-1zM14 37h2v1h-2zM25 37h1v1h-1zM68 37h1v1h-1zM12 38h2v1h-2zM26 38h1v1h-1zM68 38h3v1h-3zM9 39h2v1h-2zM26 39h1v1h-1zM50 39h1v1h-1zM53 39h1v1h-1zM70 39h1v1h-1zM7 40h1v1h-1zM57 40h1v1h-1zM71 40h2v1h-2zM0 41h7v1h-7zM27 41h1v1h-1zM59 41h1v1h-1zM70 41h1v1h-1zM73 41h1v1h-1zM28 42h1v1h-1zM69 42h1v1h-1zM30 44h1v1h-1zM31 45h1v1h-1zM72 45h1v1h-1zM45 46h1v1h-1zM45 47h1v1h-1zM56 47h1v1h-1zM64 47h1v1h-1zM38 48h2v1h-2zM42 48h1v1h-1zM53 48h1v1h-1zM55 48h1v1h-1zM65 48h1v1h-1zM70 48h1v1h-1zM50 49h1v1h-1zM54 49h1v1h-1zM65 49h1v1h-1zM46 50h1v1h-1zM52 50h2v1h-2zM64 50h1v1h-1zM93 50h1v1h-1zM63 51h1v1h-1zM87 51h1v1h-1zM92 51h1v1h-1zM103 51h2v1h-2zM107 51h1v1h-1zM46 52h1v1h-1zM61 52h1v1h-1zM87 52h1v1h-1zM92 52h1v1h-1zM58 53h1v1h-1zM92 53h1v1h-1zM57 54h2v1h-2zM92 54h1v1h-1zM94 54h1v1h-1zM105 54h2v1h-2zM54 55h1v1h-1zM91 55h1v1h-1zM95 55h1v1h-1zM103 55h2v1h-2zM55 56h1v1h-1zM102 56h1v1h-1zM104 56h4v1h-4zM92 57h1v1h-1zM97 57h1v1h-1zM102 57h1v1h-1zM58 58h1v1h-1zM95 58h1v1h-1zM101 58h1v1h-1zM101 59h2v1h-2zM60 60h1v1h-1zM102 60h6v1h-6zM63 61h1v1h-1zM103 61h5v1h-5zM103 62h2v1h-2zM65 63h1v1h-1zM96 63h1v1h-1zM100 63h1v1h-1zM67 64h1v1h-1zM97 64h1v1h-1zM70 65h1v1h-1zM98 65h1v1h-1zM73 67h1v1h-1zM74 68h1v1h-1zM80 73h1v1h-1zM82 74h1v1h-1zM84 75h1v1h-1zM87 77h1v1h-1zM90 79h1v1h-1zM92 80h1v1h-1zM14 82h1v1h-1zM28 82h3v1h-3zM92 82h1v1h-1zM14 83h1v1h-1zM28 83h5v1h-5zM92 83h2v1h-2zM28 84h1v1h-1zM32 84h3v1h-3zM93 84h2v1h-2zM28 85h1v1h-1zM34 85h2v1h-2zM95 85h1v1h-1zM10 86h2v1h-2zM28 86h1v1h-1zM35 86h1v1h-1zM96 86h1v1h-1zM10 87h1v1h-1zM27 87h2v1h-2zM35 87h2v1h-2zM97 87h1v1h-1zM27 88h2v1h-2zM35 88h2v1h-2zM98 88h1v1h-1zM0 89h5v1h-5zM26 89h4v1h-4zM33 89h5v1h-5zM99 89h1v1h-1zM0 90h8v1h-8zM26 90h12v1h-12zM99 90h1v1h-1zM0 91h9v1h-9zM26 91h12v1h-12zM99 91h2v1h-2zM0 92h8v1h-8zM26 92h12v1h-12zM99 92h2v1h-2zM0 93h8v1h-8zM26 93h12v1h-12zM99 93h2v1h-2zM0 94h8v1h-8zM26 94h12v1h-12zM99 94h2v1h-2zM0 95h8v1h-8zM26 95h12v1h-12zM99 95h2v1h-2z"/>
<path fill="#00bfff" d="M63 28h5v1h-5zM61 29h3v1h-3zM69 29h2v1h-2zM61 30h2v1h-2zM70 30h2v1h-2zM64 31h7v1h-7zM65 34h1v1h-1zM22 35h2v1h-2zM65 35h1v1h-1zM67 35h1v1h-1zM18 36h3v1h-3zM24 36h1v1h-1zM16 37h2v1h-2zM66 37h1v1h-1zM14 38h3v1h-3zM25 38h1v1h-1zM67 38h1v1h-1zM11 39h3v1h-3zM51 39h2v1h-2zM8 40h2v1h-2zM26 40h1v1h-1zM49 40h1v1h-1zM7 41h1v1h-1zM47 41h2v1h-2zM71 41h2v1h-2zM0 42h7v1h-7zM50 42h1v1h-1zM60 42h1v1h-1zM72 42h1v1h-1zM29 43h1v1h-1zM45 43h1v1h-1zM61 43h1v1h-1zM69 43h1v1h-1zM72 43h1v1h-1zM72 44h1v1h-1zM62 45h1v1h-1zM70 45h1v1h-1zM36 46h1v1h-1zM57 46h2v1h-2zM70 46h1v1h-1zM37 47h1v1h-1zM51 47h1v1h-1zM70 47h2v1h-2zM40 48h2v1h-2zM43 48h1v1h-1zM50 48h1v1h-1zM54 48h1v1h-1zM49 49h1v1h-1zM49 50h1v1h-1zM51 50h1v1h-1zM49 51h1v1h-1zM93 51h1v1h-1zM56 52h1v1h-1zM93 52h1v1h-1zM102 52h1v1h-1zM47 53h2v1h-2zM57 53h1v1h-1zM93 53h1v1h-1zM102 53h1v1h-1zM93 54h1v1h-1zM103 54h2v1h-2zM107 54h1v1h-1zM92 55h1v1h-1zM92 56h1v1h-1zM103 56h1v1h-1zM93 57h1v1h-1zM96 57h1v1h-1zM103 57h5v1h-5zM57 58h1v1h-1zM100 58h1v1h-1zM102 58h6v1h-6zM103 59h5v1h-5zM59 60h1v1h-1zM62 61h1v1h-1zM96 61h1v1h-1zM100 61h1v1h-1zM63 62h1v1h-1zM96 62h1v1h-1zM100 62h1v1h-1zM64 63h1v1h-1zM66 64h1v1h-1zM99 64h1v1h-1zM72 66h1v1h-1zM75 70h1v1h-1zM78 72h1v1h-1zM83 75h1v1h-1zM85 76h1v1h-1zM17 77h3v1h-3zM16 78h5v1h-5zM88 78h1v1h-1zM15 79h7v1h-7zM13 80h10v1h-10zM91 80h1v1h-1zM12 81h20v1h-20zM92 81h1v1h-1zM11 82h3v1h-3zM15 82h13v1h-13zM31 82h2v1h-2zM91 82h1v1h-1zM10 83h4v1h-4zM15 83h13v1h-13zM33 83h2v1h-2zM89 83h3v1h-3zM9 84h15v1h-15zM25 84h3v1h-3zM35 84h1v1h-1zM92 84h1v1h-1zM8 85h15v1h-15zM26 85h2v1h-2zM36 85h1v1h-1zM93 85h2v1h-2zM7 86h3v1h-3zM12 86h11v1h-11zM25 86h3v1h-3zM36 86h2v1h-2zM94 86h2v1h-2zM5 87h5v1h-5zM11 87h10v1h-10zM23 87h4v1h-4zM37 87h1v1h-1zM95 87h2v1h-2zM0 88h20v1h-20zM23 88h4v1h-4zM37 88h2v1h-2zM96 88h2v1h-2zM5 89h14v1h-14zM23 89h3v1h-3zM38 89h1v1h-1zM97 89h2v1h-2zM8 90h10v1h-10zM23 90h3v1h-3zM38 90h2v1h-2zM98 90h1v1h-1zM9 91h9v1h-9zM23 91h3v1h-3zM38 91h2v1h-2zM98 91h1v1h-1zM8 92h10v1h-10zM23 92h3v1h-3zM38 92h2v1h-2zM98 92h1v1h-1zM8 93h10v1h-10zM23 93h3v1h-3zM38 93h2v1h-2zM98 93h1v1h-1zM8 94h10v1h-10zM23 94h3v1h-3zM38 94h2v1h-2zM98 94h1v1h-1zM8 95h10v1h-10zM23 95h3v1h-3zM38 95h2v1h-2zM98 95h1v1h-1z"/>
<path fill="#00cfff" d="M64 29h5v1h-5zM63 30h3v1h-3zM68 30h2v1h-2zM66 35h1v1h-1zM21 36h3v1h-3zM66 36h1v1h-1zM18 37h3v1h-3zM24 37h1v1h-1zM17 38h3v1h-3zM14 39h4v1h-4zM25 39h1v1h-1zM10 40h4v1h-4zM50 40h1v1h-1zM56 40h1v1h-1zM8 41h1v1h-1zM26 41h1v1h-1zM49 41h2v1h-2zM58 41h1v1h-1zM7 42h1v1h-1zM27 42h1v1h-1zM46 42h1v1h-1zM49 42h1v1h-1zM51 42h1v1h-1zM70 42h2v1h-2zM0 43h7v1h-7zM49 43h2v1h-2zM29 44h1v1h-1zM70 44h2v1h-2zM30 45h1v1h-1zM71 45h1v1h-1zM71 46h1v1h-1zM50 47h1v1h-1zM52 47h1v1h-1zM58 47h1v1h-1zM44 48h1v1h-1zM38 49h2v1h-2zM47 49h2v1h-2zM50 50h1v1h-1zM54 50h2v1h-2zM52 51h3v1h-3zM49 52h1v1h-1zM53 52h1v1h-1zM60 52h1v1h-1zM105 52h1v1h-1zM46 53h1v1h-1zM53 53h1v1h-1zM53 54h1v1h-1zM93 55h2v1h-2zM95 56h1v1h-1zM55 57h1v1h-1zM94 57h2v1h-2zM56 58h1v1h-1zM58 59h1v1h-1zM100 59h1v1h-1zM96 60h1v1h-1zM100 60h1v1h-1zM59 61h3v1h-3zM62 62h1v1h-1zM62 63h2v1h-2zM97 63h1v1h-1zM98 64h1v1h-1zM68 65h2v1h-2zM48 68h2v1h-2zM74 69h1v1h-1zM76 71h1v1h-1zM79 73h1v1h-1zM81 74h1v1h-1zM16 76h5v1h-5zM15 77h2v1h-2zM20 77h3v1h-3zM86 77h1v1h-1zM14 78h2v1h-2zM21 78h4v1h-4zM13 79h2v1h-2zM22 79h7v1h-7zM11 80h2v1h-2zM23 80h9v1h-9zM10 81h2v1h-2zM32 81h2v1h-2zM91 81h1v1h-1zM9 82h2v1h-2zM33 82h2v1h-2zM90 82h1v1h-1zM8 83h2v1h-2zM35 83h1v1h-1zM7 84h2v1h-2zM24 84h1v1h-1zM36 84h1v1h-1zM89 84h3v1h-3zM6 85h2v1h-2zM23 85h3v1h-3zM37 85h1v1h-1zM92 85h1v1h-1zM0 86h7v1h-7zM23 86h2v1h-2zM38 86h1v1h-1zM93 86h1v1h-1zM0 87h5v1h-5zM21 87h2v1h-2zM38 87h1v1h-1zM94 87h1v1h-1zM20 88h3v1h-3zM39 88h1v1h-1zM95 88h1v1h-1zM19 89h4v1h-4zM39 89h1v1h-1zM96 89h1v1h-1zM18 90h5v1h-5zM40 90h1v1h-1zM96 90h2v1h-2zM18 91h5v1h-5zM40 91h1v1h-1zM96 91h2v1h-2zM18 92h5v1h-5zM40 92h1v1h-1zM96 92h2v1h-2zM18 93h5v1h-5zM40 93h1v1h-1zM96 93h2v1h-2zM18 94h5v1h-5zM40 94h1v1h-1zM96 94h2v1h-2zM18 95h5v1h-5zM40 95h1v1h-1zM96 95h2v1h-2z"/>
<path fill="#00dfff" d="M66 30h2v1h-2zM67 36h1v1h-1zM21 37h3v1h-3zM67 37h1v1h-1zM20 38h2v1h-2zM24 38h1v1h-1zM18 39h3v1h-3zM14 40h7v1h-7zM25 40h1v1h-1zM51 40h5v1h-5zM9 41h12v1h-12zM51 41h1v1h-1zM57 41h1v1h-1zM8 42h2v1h-2zM19 42h2v1h-2zM48 42h1v1h-1zM7 43h2v1h-2zM19 43h2v1h-2zM28 43h1v1h-1zM51 43h1v1h-1zM70 43h2v1h-2zM0 44h8v1h-8zM20 44h1v1h-1zM45 44h1v1h-1zM45 45h1v1h-1zM58 45h1v1h-1zM35 46h1v1h-1zM63 47h1v1h-1zM37 48h1v1h-1zM49 48h1v1h-1zM46 49h1v1h-1zM57 49h1v1h-1zM38 50h1v1h-1zM56 50h1v1h-1zM55 51h1v1h-1zM57 52h1v1h-1zM59 52h1v1h-1zM103 52h2v1h-2zM106 52h2v1h-2zM49 53h1v1h-1zM103 53h5v1h-5zM93 56h1v1h-1zM55 58h1v1h-1zM96 58h1v1h-1zM96 59h1v1h-1zM58 60h1v1h-1zM59 62h3v1h-3zM59 63h3v1h-3zM99 63h1v1h-1zM54 64h1v1h-1zM59 64h7v1h-7zM54 65h2v1h-2zM58 65h5v1h-5zM67 65h1v1h-1zM54 66h6v1h-6zM62 66h1v1h-1zM53 67h6v1h-6zM47 68h1v1h-1zM50 68h1v1h-1zM54 68h3v1h-3zM73 68h1v1h-1zM48 69h2v1h-2zM15 75h6v1h-6zM82 75h1v1h-1zM14 76h2v1h-2zM21 76h3v1h-3zM84 76h1v1h-1zM13 77h2v1h-2zM23 77h4v1h-4zM12 78h2v1h-2zM25 78h5v1h-5zM87 78h1v1h-1zM10 79h3v1h-3zM29 79h4v1h-4zM89 79h1v1h-1zM9 80h2v1h-2zM32 80h2v1h-2zM90 80h1v1h-1zM8 81h2v1h-2zM34 81h1v1h-1zM7 82h2v1h-2zM35 82h2v1h-2zM89 82h1v1h-1zM6 83h2v1h-2zM36 83h2v1h-2zM0 84h7v1h-7zM37 84h1v1h-1zM0 85h6v1h-6zM38 85h1v1h-1zM90 85h2v1h-2zM39 86h1v1h-1zM92 86h1v1h-1zM39 87h1v1h-1zM93 87h1v1h-1zM40 88h1v1h-1zM94 88h1v1h-1zM40 89h2v1h-2zM95 89h1v1h-1zM41 90h1v1h-1zM95 90h1v1h-1zM41 91h1v1h-1zM95 91h1v1h-1zM41 92h1v1h-1zM95 92h1v1h-1zM41 93h1v1h-1zM95 93h1v1h-1zM41 94h1v1h-1zM95 94h1v1h-1zM41 95h1v1h-1zM95 95h1v1h-1z"/>
<path fill="#00efff" d="M22 38h2v1h-2zM21 39h1v1h-1zM24 39h1v1h-1zM21 40h1v1h-1zM24 40h1v1h-1zM21 41h1v1h-1zM25 41h1v1h-1zM52 41h1v1h-1zM55 41h2v1h-2zM10 42h9v1h-9zM21 42h1v1h-1zM25 42h2v1h-2zM47 42h1v1h-1zM52 42h1v1h-1zM55 42h2v1h-2zM9 43h10v1h-10zM21 43h1v1h-1zM27 43h1v1h-1zM8 44h12v1h-12zM21 44h1v1h-1zM28 44h1v1h-1zM0 45h22v1h-22zM29 45h1v1h-1zM0 46h22v1h-22zM32 46h3v1h-3zM51 46h1v1h-1zM59 46h1v1h-1zM62 46h1v1h-1zM7 47h15v1h-15zM36 47h1v1h-1zM46 47h1v1h-1zM8 48h14v1h-14zM45 48h2v1h-2zM64 48h1v1h-1zM8 49h14v1h-14zM24 49h3v1h-3zM33 49h1v1h-1zM37 49h1v1h-1zM40 49h1v1h-1zM64 49h1v1h-1zM9 50h12v1h-12zM25 50h3v1h-3zM34 50h1v1h-1zM37 50h1v1h-1zM39 50h1v1h-1zM63 50h1v1h-1zM11 51h10v1h-10zM28 51h2v1h-2zM34 51h1v1h-1zM38 51h1v1h-1zM50 51h2v1h-2zM56 51h1v1h-1zM62 51h1v1h-1zM12 52h8v1h-8zM33 52h3v1h-3zM37 52h2v1h-2zM58 52h1v1h-1zM13 53h7v1h-7zM33 53h7v1h-7zM14 54h5v1h-5zM33 54h4v1h-4zM47 54h2v1h-2zM15 55h3v1h-3zM34 55h2v1h-2zM53 55h1v1h-1zM54 56h1v1h-1zM94 56h1v1h-1zM99 58h1v1h-1zM57 59h1v1h-1zM58 61h1v1h-1zM97 61h1v1h-1zM97 62h1v1h-1zM53 63h2v1h-2zM58 63h1v1h-1zM98 63h1v1h-1zM50 64h4v1h-4zM55 64h1v1h-1zM58 64h1v1h-1zM50 65h4v1h-4zM56 65h2v1h-2zM63 65h1v1h-1zM66 65h1v1h-1zM52 66h2v1h-2zM60 66h2v1h-2zM63 66h1v1h-1zM0 67h8v1h-8zM47 67h6v1h-6zM59 67h5v1h-5zM0 68h15v1h-15zM46 68h1v1h-1zM51 68h3v1h-3zM57 68h6v1h-6zM0 69h16v1h-16zM47 69h1v1h-1zM55 69h2v1h-2zM59 69h4v1h-4zM73 69h1v1h-1zM0 70h16v1h-16zM61 70h2v1h-2zM74 70h1v1h-1zM0 71h16v1h-16zM75 71h1v1h-1zM0 72h16v1h-16zM77 72h1v1h-1zM0 73h19v1h-19zM0 74h22v1h-22zM80 74h1v1h-1zM0 75h15v1h-15zM21 75h3v1h-3zM28 75h2v1h-2zM0 76h14v1h-14zM24 76h7v1h-7zM0 77h13v1h-13zM27 77h5v1h-5zM0 78h12v1h-12zM30 78h3v1h-3zM0 79h10v1h-10zM33 79h2v1h-2zM0 80h9v1h-9zM34 80h2v1h-2zM0 81h8v1h-8zM35 81h2v1h-2zM90 81h1v1h-1zM0 82h7v1h-7zM37 82h1v1h-1zM0 83h6v1h-6zM38 83h1v1h-1zM38 84h1v1h-1zM39 85h1v1h-1zM89 85h1v1h-1zM40 86h1v1h-1zM90 86h2v1h-2zM40 87h1v1h-1zM91 87h2v1h-2zM41 88h1v1h-1zM92 88h2v1h-2zM42 89h1v1h-1zM93 89h2v1h-2zM42 90h2v1h-2zM94 90h1v1h-1zM42 91h2v1h-2zM94 91h1v1h-1zM42 92h2v1h-2zM94 92h1v1h-1zM42 93h2v1h-2zM94 93h1v1h-1zM42 94h2v1h-2zM94 94h1v1h-1zM42 95h2v1h-2zM94 95h1v1h-1z"/>
<path fill="#00ffff" d="M22 39h2v1h-2zM24 41h1v1h-1zM53 41h2v1h-2zM24 42h1v1h-1zM53 42h2v1h-2zM57 42h1v1h-1zM59 42h1v1h-1zM25 43h2v1h-2zM48 43h1v1h-1zM52 43h1v1h-1zM56 43h1v1h-1zM60 43h1v1h-1zM27 44h1v1h-1zM49 44h2v1h-2zM22 45h1v1h-1zM28 45h1v1h-1zM57 45h1v1h-1zM59 45h1v1h-1zM22 46h1v1h-1zM29 46h3v1h-3zM46 46h1v1h-1zM50 46h1v1h-1zM56 46h1v1h-1zM0 47h7v1h-7zM22 47h2v1h-2zM49 47h1v1h-1zM53 47h1v1h-1zM55 47h1v1h-1zM0 48h8v1h-8zM22 48h5v1h-5zM35 48h2v1h-2zM47 48h2v1h-2zM63 48h1v1h-1zM0 49h8v1h-8zM22 49h2v1h-2zM27 49h2v1h-2zM31 49h2v1h-2zM34 49h3v1h-3zM0 50h9v1h-9zM21 50h1v1h-1zM24 50h1v1h-1zM28 50h6v1h-6zM35 50h2v1h-2zM45 50h1v1h-1zM0 51h11v1h-11zM21 51h1v1h-1zM25 51h3v1h-3zM30 51h4v1h-4zM35 51h3v1h-3zM39 51h1v1h-1zM45 51h1v1h-1zM0 52h12v1h-12zM20 52h2v1h-2zM27 52h6v1h-6zM36 52h1v1h-1zM39 52h1v1h-1zM45 52h1v1h-1zM52 52h1v1h-1zM0 53h13v1h-13zM20 53h1v1h-1zM29 53h4v1h-4zM0 54h14v1h-14zM19 54h2v1h-2zM31 54h2v1h-2zM37 54h3v1h-3zM46 54h1v1h-1zM49 54h1v1h-1zM0 55h15v1h-15zM18 55h3v1h-3zM33 55h1v1h-1zM36 55h5v1h-5zM44 55h1v1h-1zM0 56h21v1h-21zM34 56h1v1h-1zM40 56h6v1h-6zM0 57h21v1h-21zM40 57h2v1h-2zM44 57h3v1h-3zM0 58h21v1h-21zM97 58h1v1h-1zM0 59h21v1h-21zM23 59h3v1h-3zM56 59h1v1h-1zM0 60h22v1h-22zM24 60h2v1h-2zM0 61h22v1h-22zM24 61h2v1h-2zM0 62h22v1h-22zM48 62h2v1h-2zM58 62h1v1h-1zM99 62h1v1h-1zM0 63h22v1h-22zM48 63h5v1h-5zM0 64h21v1h-21zM49 64h1v1h-1zM0 65h20v1h-20zM64 65h2v1h-2zM0 66h20v1h-20zM50 66h2v1h-2zM64 66h1v1h-1zM66 66h2v1h-2zM8 67h12v1h-12zM45 67h2v1h-2zM72 67h1v1h-1zM15 68h5v1h-5zM45 68h1v1h-1zM63 68h1v1h-1zM16 69h4v1h-4zM46 69h1v1h-1zM50 69h1v1h-1zM54 69h1v1h-1zM57 69h2v1h-2zM63 69h1v1h-1zM16 70h4v1h-4zM56 70h5v1h-5zM63 70h1v1h-1zM16 71h5v1h-5zM59 71h5v1h-5zM16 72h8v1h-8zM59 72h4v1h-4zM19 73h6v1h-6zM52 73h2v1h-2zM78 73h1v1h-1zM22 74h4v1h-4zM28 74h3v1h-3zM52 74h2v1h-2zM24 75h4v1h-4zM30 75h2v1h-2zM31 76h2v1h-2zM83 76h1v1h-1zM32 77h2v1h-2zM85 77h1v1h-1zM33 78h2v1h-2zM35 79h1v1h-1zM88 79h1v1h-1zM36 80h1v1h-1zM37 81h1v1h-1zM89 81h1v1h-1zM38 82h1v1h-1zM39 83h1v1h-1zM88 83h1v1h-1zM39 84h1v1h-1zM40 85h1v1h-1zM41 86h1v1h-1zM89 86h1v1h-1zM41 87h2v1h-2zM90 87h1v1h-1zM42 88h2v1h-2zM91 88h1v1h-1zM43 89h2v1h-2zM92 89h1v1h-1zM44 90h1v1h-1zM93 90h1v1h-1zM44 91h1v1h-1zM93 91h1v1h-1zM44 92h1v1h-1zM93 92h1v1h-1zM44 93h1v1h-1zM93 93h1v1h-1zM44 94h1v1h-1zM93 94h1v1h-1zM44 95h1v1h-1zM93 95h1v1h-1z"/>
<path fill="#10ffef" d="M22 40h2v1h-2zM22 41h2v1h-2zM22 42h2v1h-2zM58 42h1v1h-1zM22 43h3v1h-3zM46 43h1v1h-1zM53 43h3v1h-3zM57 43h1v1h-1zM22 44h5v1h-5zM57 44h2v1h-2zM61 44h1v1h-1zM23 45h5v1h-5zM49 45h1v1h-1zM23 46h6v1h-6zM52 46h1v1h-1zM24 47h6v1h-6zM34 47h2v1h-2zM62 47h1v1h-1zM27 48h2v1h-2zM31 48h4v1h-4zM58 48h1v1h-1zM29 49h2v1h-2zM41 49h1v1h-1zM45 49h1v1h-1zM63 49h1v1h-1zM22 50h2v1h-2zM57 50h1v1h-1zM22 51h3v1h-3zM57 51h1v1h-1zM22 52h1v1h-1zM25 52h2v1h-2zM50 52h1v1h-1zM21 53h1v1h-1zM27 53h2v1h-2zM45 53h1v1h-1zM50 53h1v1h-1zM52 53h1v1h-1zM21 54h1v1h-1zM29 54h2v1h-2zM40 54h1v1h-1zM45 54h1v1h-1zM52 54h1v1h-1zM21 55h1v1h-1zM32 55h1v1h-1zM41 55h3v1h-3zM45 55h2v1h-2zM21 56h1v1h-1zM33 56h1v1h-1zM35 56h5v1h-5zM46 56h1v1h-1zM21 57h1v1h-1zM35 57h5v1h-5zM42 57h2v1h-2zM54 57h1v1h-1zM21 58h5v1h-5zM40 58h1v1h-1zM45 58h2v1h-2zM54 58h1v1h-1zM98 58h1v1h-1zM21 59h2v1h-2zM26 59h1v1h-1zM54 59h2v1h-2zM22 60h2v1h-2zM26 60h1v1h-1zM51 60h1v1h-1zM57 60h1v1h-1zM97 60h1v1h-1zM22 61h2v1h-2zM26 61h2v1h-2zM49 61h4v1h-4zM99 61h1v1h-1zM22 62h4v1h-4zM47 62h1v1h-1zM50 62h5v1h-5zM98 62h1v1h-1zM22 63h3v1h-3zM55 63h1v1h-1zM21 64h3v1h-3zM48 64h1v1h-1zM56 64h2v1h-2zM20 65h4v1h-4zM49 65h1v1h-1zM20 66h4v1h-4zM44 66h6v1h-6zM65 66h1v1h-1zM68 66h1v1h-1zM71 66h1v1h-1zM20 67h4v1h-4zM44 67h1v1h-1zM64 67h1v1h-1zM20 68h4v1h-4zM44 68h1v1h-1zM64 68h1v1h-1zM72 68h1v1h-1zM20 69h4v1h-4zM45 69h1v1h-1zM51 69h1v1h-1zM64 69h1v1h-1zM20 70h4v1h-4zM55 70h1v1h-1zM73 70h1v1h-1zM21 71h3v1h-3zM57 71h2v1h-2zM64 71h1v1h-1zM74 71h1v1h-1zM24 72h1v1h-1zM58 72h1v1h-1zM63 72h2v1h-2zM76 72h1v1h-1zM25 73h1v1h-1zM50 73h2v1h-2zM54 73h1v1h-1zM58 73h7v1h-7zM26 74h2v1h-2zM31 74h2v1h-2zM48 74h4v1h-4zM54 74h2v1h-2zM79 74h1v1h-1zM32 75h2v1h-2zM81 75h1v1h-1zM33 76h2v1h-2zM82 76h1v1h-1zM34 77h2v1h-2zM35 78h2v1h-2zM86 78h1v1h-1zM36 79h2v1h-2zM37 80h2v1h-2zM89 80h1v1h-1zM38 81h1v1h-1zM39 82h1v1h-1zM88 82h1v1h-1zM40 83h1v1h-1zM40 84h1v1h-1zM88 84h1v1h-1zM41 85h1v1h-1zM88 85h1v1h-1zM42 86h1v1h-1zM88 86h1v1h-1zM43 87h1v1h-1zM88 87h2v1h-2zM44 88h1v1h-1zM90 88h1v1h-1zM45 89h1v1h-1zM91 89h1v1h-1zM45 90h1v1h-1zM91 90h2v1h-2zM45 91h2v1h-2zM92 91h1v1h-1zM45 92h2v1h-2zM91 92h2v1h-2zM45 93h2v1h-2zM91 93h2v1h-2zM45 94h2v1h-2zM91 94h2v1h-2zM45 95h2v1h-2zM91 95h2v1h-2z"/>
<path fill="#20ffdf" d="M47 43h1v1h-1zM58 43h2v1h-2zM48 44h1v1h-1zM51 44h1v1h-1zM59 44h1v1h-1zM50 45h1v1h-1zM49 46h1v1h-1zM30 47h4v1h-4zM47 47h2v1h-2zM54 47h1v1h-1zM59 47h1v1h-1zM29 48h2v1h-2zM44 49h1v1h-1zM40 50h1v1h-1zM23 52h2v1h-2zM51 52h1v1h-1zM22 53h1v1h-1zM25 53h2v1h-2zM40 53h1v1h-1zM22 54h1v1h-1zM26 54h3v1h-3zM44 54h1v1h-1zM50 54h1v1h-1zM27 55h5v1h-5zM47 55h2v1h-2zM32 56h1v1h-1zM47 56h1v1h-1zM22 57h1v1h-1zM33 57h2v1h-2zM47 57h1v1h-1zM26 58h1v1h-1zM34 58h6v1h-6zM41 58h4v1h-4zM47 58h1v1h-1zM27 59h1v1h-1zM35 59h6v1h-6zM45 59h2v1h-2zM53 59h1v1h-1zM97 59h1v1h-1zM99 59h1v1h-1zM27 60h2v1h-2zM46 60h2v1h-2zM49 60h2v1h-2zM52 60h2v1h-2zM99 60h1v1h-1zM28 61h5v1h-5zM46 61h3v1h-3zM53 61h1v1h-1zM98 61h1v1h-1zM26 62h7v1h-7zM25 63h4v1h-4zM47 63h1v1h-1zM57 63h1v1h-1zM24 64h4v1h-4zM41 64h7v1h-7zM24 65h4v1h-4zM40 65h9v1h-9zM24 66h4v1h-4zM37 66h7v1h-7zM24 67h4v1h-4zM39 67h5v1h-5zM65 67h3v1h-3zM24 68h5v1h-5zM43 68h1v1h-1zM24 69h7v1h-7zM44 69h1v1h-1zM52 69h2v1h-2zM72 69h1v1h-1zM24 70h9v1h-9zM45 70h4v1h-4zM64 70h1v1h-1zM72 70h1v1h-1zM24 71h10v1h-10zM55 71h2v1h-2zM65 71h1v1h-1zM73 71h1v1h-1zM25 72h9v1h-9zM54 72h4v1h-4zM65 72h4v1h-4zM26 73h8v1h-8zM48 73h2v1h-2zM55 73h3v1h-3zM65 73h5v1h-5zM33 74h2v1h-2zM44 74h4v1h-4zM56 74h10v1h-10zM34 75h2v1h-2zM45 75h14v1h-14zM35 76h2v1h-2zM36 77h2v1h-2zM84 77h1v1h-1zM37 78h1v1h-1zM38 79h1v1h-1zM87 79h1v1h-1zM39 80h1v1h-1zM39 81h1v1h-1zM40 82h1v1h-1zM41 83h1v1h-1zM41 84h1v1h-1zM42 85h1v1h-1zM43 86h1v1h-1zM44 87h1v1h-1zM86 87h2v1h-2zM45 88h1v1h-1zM88 88h2v1h-2zM46 89h1v1h-1zM89 89h2v1h-2zM46 90h2v1h-2zM90 90h1v1h-1zM47 91h1v1h-1zM90 91h2v1h-2zM47 92h1v1h-1zM90 92h1v1h-1zM47 93h1v1h-1zM90 93h1v1h-1zM47 94h1v1h-1zM90 94h1v1h-1zM47 95h1v1h-1zM90 95h1v1h-1z"/>
<path fill="#30ffcf" d="M52 44h1v1h-1zM56 44h1v1h-1zM46 45h1v1h-1zM48 45h1v1h-1zM51 45h1v1h-1zM56 45h1v1h-1zM61 45h1v1h-1zM47 46h2v1h-2zM60 46h2v1h-2zM42 49h2v1h-2zM62 50h1v1h-1zM40 51h1v1h-1zM61 51h1v1h-1zM40 52h1v1h-1zM23 53h2v1h-2zM51 53h1v1h-1zM23 54h3v1h-3zM41 54h1v1h-1zM51 54h1v1h-1zM22 55h1v1h-1zM25 55h2v1h-2zM22 56h1v1h-1zM25 56h5v1h-5zM53 56h1v1h-1zM23 57h6v1h-6zM27 58h1v1h-1zM33 58h1v1h-1zM53 58h1v1h-1zM28 59h1v1h-1zM34 59h1v1h-1zM41 59h4v1h-4zM47 59h2v1h-2zM51 59h2v1h-2zM29 60h3v1h-3zM33 60h13v1h-13zM48 60h1v1h-1zM54 60h3v1h-3zM98 60h1v1h-1zM33 61h2v1h-2zM37 61h9v1h-9zM54 61h1v1h-1zM57 61h1v1h-1zM33 62h1v1h-1zM38 62h9v1h-9zM55 62h1v1h-1zM57 62h1v1h-1zM29 63h1v1h-1zM38 63h9v1h-9zM56 63h1v1h-1zM28 64h1v1h-1zM38 64h3v1h-3zM36 65h4v1h-4zM36 66h1v1h-1zM69 66h2v1h-2zM28 67h1v1h-1zM38 67h1v1h-1zM68 67h1v1h-1zM29 68h1v1h-1zM39 68h4v1h-4zM65 68h1v1h-1zM68 68h1v1h-1zM31 69h3v1h-3zM43 69h1v1h-1zM65 69h1v1h-1zM68 69h2v1h-2zM71 69h1v1h-1zM33 70h1v1h-1zM44 70h1v1h-1zM49 70h1v1h-1zM54 70h1v1h-1zM65 70h1v1h-1zM68 70h4v1h-4zM37 71h2v1h-2zM45 71h1v1h-1zM66 71h7v1h-7zM34 72h4v1h-4zM45 72h2v1h-2zM51 72h3v1h-3zM69 72h7v1h-7zM34 73h4v1h-4zM43 73h5v1h-5zM70 73h3v1h-3zM77 73h1v1h-1zM35 74h2v1h-2zM41 74h3v1h-3zM66 74h6v1h-6zM78 74h1v1h-1zM36 75h2v1h-2zM40 75h5v1h-5zM59 75h7v1h-7zM70 75h2v1h-2zM80 75h1v1h-1zM37 76h2v1h-2zM45 76h14v1h-14zM70 76h2v1h-2zM81 76h1v1h-1zM38 77h2v1h-2zM71 77h1v1h-1zM83 77h1v1h-1zM38 78h2v1h-2zM85 78h1v1h-1zM39 79h1v1h-1zM40 80h1v1h-1zM88 80h1v1h-1zM40 81h1v1h-1zM88 81h1v1h-1zM41 82h1v1h-1zM42 83h1v1h-1zM42 84h2v1h-2zM43 85h2v1h-2zM44 86h2v1h-2zM87 86h1v1h-1zM45 87h2v1h-2zM84 87h2v1h-2zM46 88h2v1h-2zM85 88h3v1h-3zM47 89h2v1h-2zM87 89h2v1h-2zM48 90h1v1h-1zM88 90h2v1h-2zM48 91h1v1h-1zM88 91h2v1h-2zM48 92h1v1h-1zM88 92h2v1h-2zM48 93h1v1h-1zM88 93h2v1h-2zM48 94h1v1h-1zM88 94h2v1h-2zM48 95h1v1h-1zM88 95h2v1h-2z"/>
<path fill="#40ffbf" d="M46 44h1v1h-1zM53 44h1v1h-1zM55 44h1v1h-1zM60 44h1v1h-1zM52 45h1v1h-1zM53 46h1v1h-1zM62 48h1v1h-1zM62 49h1v1h-1zM42 54h2v1h-2zM23 55h2v1h-2zM49 55h1v1h-1zM52 55h1v1h-1zM23 56h2v1h-2zM30 56h2v1h-2zM48 56h1v1h-1zM29 57h1v1h-1zM32 57h1v1h-1zM28 58h1v1h-1zM48 58h1v1h-1zM29 59h1v1h-1zM33 59h1v1h-1zM49 59h2v1h-2zM98 59h1v1h-1zM32 60h1v1h-1zM35 61h2v1h-2zM55 61h2v1h-2zM34 62h4v1h-4zM56 62h1v1h-1zM30 63h8v1h-8zM35 64h3v1h-3zM28 65h1v1h-1zM35 65h1v1h-1zM28 66h1v1h-1zM34 66h2v1h-2zM29 67h1v1h-1zM34 67h4v1h-4zM30 68h4v1h-4zM38 68h1v1h-1zM66 68h2v1h-2zM69 68h1v1h-1zM66 69h2v1h-2zM70 69h1v1h-1zM34 70h1v1h-1zM38 70h1v1h-1zM50 70h1v1h-1zM66 70h2v1h-2zM34 71h3v1h-3zM44 71h1v1h-1zM46 71h2v1h-2zM54 71h1v1h-1zM38 72h1v1h-1zM43 72h2v1h-2zM47 72h4v1h-4zM38 73h5v1h-5zM73 73h1v1h-1zM76 73h1v1h-1zM37 74h4v1h-4zM72 74h2v1h-2zM77 74h1v1h-1zM38 75h2v1h-2zM66 75h4v1h-4zM72 75h1v1h-1zM79 75h1v1h-1zM39 76h6v1h-6zM59 76h8v1h-8zM69 76h1v1h-1zM72 76h3v1h-3zM40 77h20v1h-20zM70 77h1v1h-1zM72 77h3v1h-3zM82 77h1v1h-1zM40 78h2v1h-2zM70 78h4v1h-4zM40 79h2v1h-2zM71 79h2v1h-2zM86 79h1v1h-1zM41 80h1v1h-1zM41 81h2v1h-2zM42 82h2v1h-2zM43 83h2v1h-2zM44 84h1v1h-1zM45 85h1v1h-1zM46 86h1v1h-1zM84 86h3v1h-3zM47 87h2v1h-2zM82 87h2v1h-2zM48 88h2v1h-2zM83 88h2v1h-2zM49 89h2v1h-2zM84 89h3v1h-3zM49 90h6v1h-6zM85 90h3v1h-3zM49 91h6v1h-6zM85 91h3v1h-3zM49 92h6v1h-6zM85 92h3v1h-3zM49 93h6v1h-6zM85 93h3v1h-3zM49 94h6v1h-6zM85 94h3v1h-3zM49 95h6v1h-6zM85 95h3v1h-3z"/>
<path fill="#50ffaf" d="M47 44h1v1h-1zM54 44h1v1h-1zM47 45h1v1h-1zM53 45h1v1h-1zM60 45h1v1h-1zM55 46h1v1h-1zM60 47h2v1h-2zM58 51h1v1h-1zM60 51h1v1h-1zM41 53h1v1h-1zM44 53h1v1h-1zM48 57h1v1h-1zM53 57h1v1h-1zM29 58h1v1h-1zM32 58h1v1h-1zM30 59h1v1h-1zM32 59h1v1h-1zM29 64h1v1h-1zM33 64h2v1h-2zM34 65h1v1h-1zM29 66h1v1h-1zM33 66h1v1h-1zM30 67h1v1h-1zM32 67h2v1h-2zM69 67h1v1h-1zM71 67h1v1h-1zM34 68h1v1h-1zM71 68h1v1h-1zM34 69h1v1h-1zM38 69h2v1h-2zM42 69h1v1h-1zM35 70h3v1h-3zM39 70h1v1h-1zM43 70h1v1h-1zM39 71h1v1h-1zM43 71h1v1h-1zM48 71h2v1h-2zM39 72h1v1h-1zM74 73h2v1h-2zM74 74h1v1h-1zM76 74h1v1h-1zM73 75h3v1h-3zM78 75h1v1h-1zM67 76h2v1h-2zM75 76h1v1h-1zM80 76h1v1h-1zM60 77h8v1h-8zM69 77h1v1h-1zM75 77h1v1h-1zM42 78h21v1h-21zM69 78h1v1h-1zM74 78h3v1h-3zM84 78h1v1h-1zM42 79h7v1h-7zM54 79h5v1h-5zM70 79h1v1h-1zM73 79h4v1h-4zM42 80h4v1h-4zM70 80h6v1h-6zM87 80h1v1h-1zM43 81h3v1h-3zM71 81h4v1h-4zM44 82h2v1h-2zM71 82h3v1h-3zM87 82h1v1h-1zM45 83h2v1h-2zM71 83h2v1h-2zM45 84h3v1h-3zM46 85h3v1h-3zM87 85h1v1h-1zM47 86h3v1h-3zM57 86h3v1h-3zM80 86h4v1h-4zM49 87h4v1h-4zM55 87h5v1h-5zM77 87h5v1h-5zM50 88h10v1h-10zM78 88h5v1h-5zM51 89h8v1h-8zM81 89h3v1h-3zM55 90h4v1h-4zM81 90h4v1h-4zM55 91h4v1h-4zM81 91h4v1h-4zM55 92h4v1h-4zM81 92h4v1h-4zM55 93h4v1h-4zM81 93h4v1h-4zM55 94h4v1h-4zM81 94h4v1h-4zM55 95h4v1h-4zM81 95h4v1h-4z"/>
<path fill="#60ff9f" d="M55 45h1v1h-1zM54 46h1v1h-1zM58 49h1v1h-1zM41 50h1v1h-1zM44 50h1v1h-1zM59 51h1v1h-1zM50 55h2v1h-2zM30 57h2v1h-2zM49 58h1v1h-1zM52 58h1v1h-1zM31 59h1v1h-1zM30 64h1v1h-1zM32 64h1v1h-1zM29 65h1v1h-1zM33 65h1v1h-1zM32 66h1v1h-1zM31 67h1v1h-1zM35 68h3v1h-3zM70 68h1v1h-1zM35 69h1v1h-1zM37 69h1v1h-1zM40 69h2v1h-2zM51 70h1v1h-1zM53 70h1v1h-1zM50 71h1v1h-1zM53 71h1v1h-1zM40 72h1v1h-1zM42 72h1v1h-1zM75 74h1v1h-1zM76 75h2v1h-2zM76 76h1v1h-1zM79 76h1v1h-1zM68 77h1v1h-1zM76 77h1v1h-1zM81 77h1v1h-1zM63 78h6v1h-6zM77 78h1v1h-1zM83 78h1v1h-1zM49 79h5v1h-5zM59 79h11v1h-11zM77 79h1v1h-1zM85 79h1v1h-1zM46 80h22v1h-22zM69 80h1v1h-1zM76 80h2v1h-2zM86 80h1v1h-1zM46 81h4v1h-4zM56 81h11v1h-11zM69 81h2v1h-2zM75 81h2v1h-2zM87 81h1v1h-1zM46 82h3v1h-3zM57 82h10v1h-10zM69 82h2v1h-2zM74 82h4v1h-4zM47 83h3v1h-3zM56 83h11v1h-11zM70 83h1v1h-1zM73 83h2v1h-2zM87 83h1v1h-1zM48 84h3v1h-3zM55 84h12v1h-12zM70 84h5v1h-5zM87 84h1v1h-1zM49 85h18v1h-18zM73 85h2v1h-2zM83 85h2v1h-2zM50 86h7v1h-7zM60 86h8v1h-8zM75 86h5v1h-5zM53 87h2v1h-2zM60 87h8v1h-8zM75 87h2v1h-2zM60 88h9v1h-9zM74 88h4v1h-4zM59 89h11v1h-11zM73 89h8v1h-8zM59 90h22v1h-22zM59 91h22v1h-22zM59 92h22v1h-22zM59 93h22v1h-22zM59 94h22v1h-22zM59 95h22v1h-22z"/>
<path fill="#70ff8f" d="M54 45h1v1h-1zM44 51h1v1h-1zM44 52h1v1h-1zM49 56h1v1h-1zM30 58h2v1h-2zM50 58h2v1h-2zM31 64h1v1h-1zM30 65h1v1h-1zM32 65h1v1h-1zM30 66h2v1h-2zM70 67h1v1h-1zM36 69h1v1h-1zM42 70h1v1h-1zM52 70h1v1h-1zM51 71h2v1h-2zM41 72h1v1h-1zM77 76h2v1h-2zM77 77h1v1h-1zM80 77h1v1h-1zM82 78h1v1h-1zM84 79h1v1h-1zM68 80h1v1h-1zM78 80h1v1h-1zM50 81h6v1h-6zM67 81h2v1h-2zM77 81h2v1h-2zM49 82h8v1h-8zM67 82h2v1h-2zM78 82h1v1h-1zM50 83h6v1h-6zM67 83h3v1h-3zM75 83h4v1h-4zM51 84h4v1h-4zM67 84h3v1h-3zM75 84h2v1h-2zM67 85h6v1h-6zM75 85h8v1h-8zM85 85h2v1h-2zM68 86h7v1h-7zM68 87h7v1h-7zM69 88h5v1h-5zM70 89h3v1h-3z"/>
<path fill="#80ff80" d="M59 48h1v1h-1zM61 48h1v1h-1zM58 50h1v1h-1zM61 50h1v1h-1zM41 52h1v1h-1zM42 53h2v1h-2zM52 56h1v1h-1zM49 57h1v1h-1zM52 57h1v1h-1zM31 65h1v1h-1zM40 70h1v1h-1zM42 71h1v1h-1zM78 77h2v1h-2zM78 78h1v1h-1zM80 78h2v1h-2zM78 79h1v1h-1zM82 79h2v1h-2zM79 80h1v1h-1zM83 80h3v1h-3zM79 81h1v1h-1zM83 81h1v1h-1zM86 81h1v1h-1zM79 82h1v1h-1zM83 82h2v1h-2zM79 83h3v1h-3zM83 83h2v1h-2zM77 84h8v1h-8z"/>
<path fill="#8fff70" d="M41 51h1v1h-1zM41 70h1v1h-1zM40 71h2v1h-2zM79 78h1v1h-1zM79 79h3v1h-3zM80 80h1v1h-1zM82 80h1v1h-1zM80 81h3v1h-3zM84 81h2v1h-2zM80 82h3v1h-3zM85 82h2v1h-2zM82 83h1v1h-1zM85 83h2v1h-2zM85 84h2v1h-2z"/>
<path fill="#9fff60" d="M60 48h1v1h-1zM61 49h1v1h-1zM42 50h2v1h-2zM50 56h1v1h-1zM81 80h1v1h-1z"/>
<path fill="#afff50" d="M51 56h1v1h-1zM50 57h2v1h-2z"/>
<path fill="#bfff40" d="M59 49h1v1h-1zM59 50h2v1h-2zM42 52h2v1h-2z"/>
<path fill="#cfff30" d="M60 49h1v1h-1zM43 51h1v1h-1z"/>
<path fill="#dfff20" d="M42 51h1v1h-1z"/>
</g>
</g>
<g filter="url(#sb)">
<ellipse cx="278.9" cy="279.2" rx="9.0" ry="9.0" transform="rotate(0 278.9 279.2)" fill="#6eff90" opacity="0.55"/>
<ellipse cx="278.9" cy="279.2" rx="5.6" ry="5.6" transform="rotate(0 278.9 279.2)" fill="#f7ff08" opacity="0.95"/>
<ellipse cx="278.7" cy="279.4" rx="1.7" ry="1.7" transform="rotate(0 278.7 279.4)" fill="#ff5e00" opacity="0.90"/>
<ellipse cx="315.5" cy="303.4" rx="9.0" ry="6.0" transform="rotate(0 315.5 303.4)" fill="#80ff80" opacity="0.50"/>
<ellipse cx="314.8" cy="303.4" rx="5.5" ry="4.0" transform="rotate(0 314.8 303.4)" fill="#fff700" opacity="0.95"/>
<ellipse cx="363.1" cy="272.0" rx="6.0" ry="7.5" transform="rotate(25 363.1 272.0)" fill="#c3ff3c" opacity="0.80"/>
<ellipse cx="220.4" cy="348.8" rx="10.0" ry="7.0" transform="rotate(0 220.4 348.8)" fill="#80ff80" opacity="0.55"/>
<ellipse cx="220.4" cy="348.8" rx="7.0" ry="4.2" transform="rotate(0 220.4 348.8)" fill="#fff700" opacity="1.00"/>
<ellipse cx="246.1" cy="364.7" rx="7.0" ry="6.5" transform="rotate(0 246.1 364.7)" fill="#6eff90" opacity="0.50"/>
<ellipse cx="246.1" cy="364.7" rx="4.0" ry="3.6" transform="rotate(0 246.1 364.7)" fill="#d5ff2a" opacity="0.90"/>
<ellipse cx="273.9" cy="373.8" rx="9.0" ry="8.0" transform="rotate(0 273.9 373.8)" fill="#80ff80" opacity="0.55"/>
<ellipse cx="273.9" cy="373.8" rx="5.5" ry="5.0" transform="rotate(0 273.9 373.8)" fill="#fff700" opacity="1.00"/>
<ellipse cx="306.2" cy="375.8" rx="3.5" ry="4.0" transform="rotate(0 306.2 375.8)" fill="#aaff55" opacity="0.75"/>
<ellipse cx="326.3" cy="374.5" rx="10.0" ry="3.8" transform="rotate(8 326.3 374.5)" fill="#d5ff2a" opacity="0.90"/>
<ellipse cx="330.0" cy="44.0" rx="10.0" ry="5.0" transform="rotate(0 330.0 44.0)" fill="#0055ff" opacity="0.80"/>
<ellipse cx="345.0" cy="47.0" rx="3.4" ry="9.0" transform="rotate(0 345.0 47.0)" fill="#00a2ff" opacity="0.95"/>
<ellipse cx="528.8" cy="281.0" rx="2.4" ry="10.0" transform="rotate(4 528.8 281.0)" fill="#00e5ff" opacity="0.80"/>
<ellipse cx="528.0" cy="272.5" rx="2.0" ry="3.6" transform="rotate(8 528.0 272.5)" fill="#6eff90" opacity="0.85"/>
</g>
<g clip-path="url(#lsw)">
<g filter="url(#bl)">
<g transform="translate(64,20) scale(5)" shape-rendering="crispEdges">
<path fill="#0000ef" d="M23 44h2v1h-2z"/>
<path fill="#0000ff" d="M19 44h4v1h-4zM18 45h3v1h-3zM24 45h1v1h-1zM16 47h1v1h-1zM15 48h3v1h-3zM19 48h2v1h-2zM14 49h1v1h-1zM10 53h2v1h-2zM10 54h2v1h-2zM10 55h2v1h-2zM11 63h1v1h-1zM20 63h1v1h-1zM9 64h8v1h-8zM19 64h2v1h-2zM9 65h1v1h-1zM19 65h2v1h-2zM0 75h22v1h-22zM0 76h22v1h-22zM0 79h25v1h-25zM0 80h25v1h-25zM23 81h2v1h-2zM24 82h1v1h-1zM0 83h29v1h-29zM0 84h25v1h-25zM26 84h3v1h-3zM23 85h2v1h-2zM27 85h2v1h-2zM24 86h1v1h-1zM28 86h1v1h-1zM0 87h34v1h-34zM0 88h33v1h-33zM23 89h2v1h-2zM28 89h1v1h-1zM0 91h44v1h-44zM0 92h44v1h-44zM32 93h12v1h-12zM32 94h12v1h-12zM0 95h44v1h-44z"/>
<path fill="#0010ff" d="M24 12h2v1h-2zM24 13h3v1h-3zM24 14h2v1h-2zM23 43h2v1h-2zM18 44h1v1h-1zM25 44h1v1h-1zM17 45h1v1h-1zM21 45h3v1h-3zM16 46h5v1h-5zM15 47h1v1h-1zM17 47h4v1h-4zM14 48h1v1h-1zM18 48h1v1h-1zM12 49h2v1h-2zM15 49h1v1h-1zM11 50h4v1h-4zM10 51h5v1h-5zM10 52h4v1h-4zM9 53h1v1h-1zM12 53h2v1h-2zM16 53h5v1h-5zM9 54h1v1h-1zM12 54h2v1h-2zM15 54h6v1h-6zM9 55h1v1h-1zM12 55h2v1h-2zM20 55h1v1h-1zM10 56h3v1h-3zM12 62h9v1h-9zM8 63h3v1h-3zM12 63h8v1h-8zM0 64h9v1h-9zM17 64h2v1h-2zM21 64h1v1h-1zM0 65h9v1h-9zM10 65h9v1h-9zM21 65h1v1h-1zM0 66h21v1h-21zM0 67h21v1h-21zM0 68h21v1h-21zM0 69h22v1h-22zM0 70h22v1h-22zM0 71h22v1h-22zM0 72h23v1h-23zM0 73h24v1h-24zM0 74h25v1h-25zM22 75h4v1h-4zM22 76h5v1h-5zM0 77h28v1h-28zM0 78h29v1h-29zM25 79h5v1h-5zM25 80h6v1h-6zM0 81h23v1h-23zM25 81h7v1h-7zM0 82h24v1h-24zM25 82h8v1h-8zM29 83h5v1h-5zM25 84h1v1h-1zM29 84h6v1h-6zM0 85h23v1h-23zM25 85h2v1h-2zM29 85h7v1h-7zM0 86h24v1h-24zM25 86h3v1h-3zM29 86h8v1h-8zM34 87h10v1h-10zM33 88h11v1h-11zM0 89h23v1h-23zM25 89h3v1h-3zM29 89h15v1h-15zM0 90h44v1h-44zM0 93h32v1h-32zM0 94h32v1h-32z"/>
<path fill="#0020ff" d="M13 0h5v1h-5zM13 1h5v1h-5zM13 2h5v1h-5zM13 3h5v1h-5zM13 4h5v1h-5zM13 5h5v1h-5zM14 6h5v1h-5zM15 7h5v1h-5zM16 8h6v1h-6zM17 9h6v1h-6zM18 10h7v1h-7zM19 11h8v1h-8zM20 12h4v1h-4zM26 12h2v1h-2zM21 13h3v1h-3zM27 13h1v1h-1zM22 14h2v1h-2zM26 14h1v1h-1zM24 15h2v1h-2zM19 43h4v1h-4zM17 44h1v1h-1zM16 45h1v1h-1zM25 45h1v1h-1zM15 46h1v1h-1zM21 46h1v1h-1zM14 47h1v1h-1zM21 47h1v1h-1zM13 48h1v1h-1zM21 48h1v1h-1zM11 49h1v1h-1zM18 49h3v1h-3zM10 50h1v1h-1zM9 51h1v1h-1zM9 52h1v1h-1zM14 52h1v1h-1zM8 53h1v1h-1zM14 53h2v1h-2zM21 53h1v1h-1zM8 54h1v1h-1zM14 54h1v1h-1zM21 54h1v1h-1zM8 55h1v1h-1zM14 55h6v1h-6zM8 56h2v1h-2zM13 56h8v1h-8zM14 57h7v1h-7zM14 58h7v1h-7zM14 59h7v1h-7zM14 60h7v1h-7zM13 61h9v1h-9zM10 62h2v1h-2zM21 62h1v1h-1zM0 63h8v1h-8zM21 63h1v1h-1zM21 66h1v1h-1zM21 67h1v1h-1zM21 68h1v1h-1zM22 70h1v1h-1zM22 71h2v1h-2zM23 72h2v1h-2zM24 73h2v1h-2zM25 74h2v1h-2zM26 75h2v1h-2zM27 76h2v1h-2zM28 77h2v1h-2zM29 78h2v1h-2zM30 79h2v1h-2zM31 80h2v1h-2zM32 81h2v1h-2zM33 82h2v1h-2zM34 83h2v1h-2zM35 84h2v1h-2zM36 85h8v1h-8zM37 86h7v1h-7z"/>
<path fill="#0030ff" d="M10 0h3v1h-3zM18 0h7v1h-7zM10 1h3v1h-3zM18 1h7v1h-7zM10 2h3v1h-3zM18 2h7v1h-7zM10 3h3v1h-3zM18 3h7v1h-7zM10 4h3v1h-3zM18 4h7v1h-7zM10 5h3v1h-3zM18 5h7v1h-7zM10 6h4v1h-4zM19 6h7v1h-7zM11 7h4v1h-4zM20 7h6v1h-6zM12 8h4v1h-4zM22 8h5v1h-5zM14 9h3v1h-3zM23 9h4v1h-4zM37 9h7v1h-7zM15 10h3v1h-3zM25 10h3v1h-3zM38 10h6v1h-6zM16 11h3v1h-3zM27 11h1v1h-1zM17 12h3v1h-3zM28 12h1v1h-1zM18 13h3v1h-3zM28 13h1v1h-1zM19 14h3v1h-3zM27 14h1v1h-1zM21 15h3v1h-3zM26 15h2v1h-2zM25 43h1v1h-1zM15 45h1v1h-1zM14 46h1v1h-1zM13 47h1v1h-1zM11 48h2v1h-2zM10 49h1v1h-1zM16 49h2v1h-2zM21 49h1v1h-1zM9 50h1v1h-1zM15 50h1v1h-1zM8 51h1v1h-1zM8 52h1v1h-1zM15 52h1v1h-1zM18 52h3v1h-3zM7 53h1v1h-1zM7 54h1v1h-1zM7 55h1v1h-1zM21 55h1v1h-1zM7 56h1v1h-1zM21 56h1v1h-1zM11 57h3v1h-3zM21 57h1v1h-1zM13 58h1v1h-1zM21 58h1v1h-1zM21 59h1v1h-1zM13 60h1v1h-1zM21 60h1v1h-1zM12 61h1v1h-1zM0 62h10v1h-10zM22 67h1v1h-1zM22 68h1v1h-1zM22 69h2v1h-2zM23 70h1v1h-1zM24 71h2v1h-2zM25 72h2v1h-2zM26 73h2v1h-2zM27 74h2v1h-2zM28 75h2v1h-2zM29 76h2v1h-2zM30 77h2v1h-2zM31 78h2v1h-2zM32 79h2v1h-2zM33 80h2v1h-2zM34 81h2v1h-2zM35 82h2v1h-2zM36 83h2v1h-2zM37 84h7v1h-7z"/>
<path fill="#0040ff" d="M7 0h3v1h-3zM25 0h19v1h-19zM7 1h3v1h-3zM25 1h19v1h-19zM7 2h3v1h-3zM25 2h19v1h-19zM7 3h3v1h-3zM25 3h19v1h-19zM7 4h3v1h-3zM25 4h19v1h-19zM7 5h3v1h-3zM25 5h19v1h-19zM7 6h3v1h-3zM26 6h18v1h-18zM8 7h3v1h-3zM26 7h18v1h-18zM9 8h3v1h-3zM27 8h17v1h-17zM10 9h4v1h-4zM27 9h10v1h-10zM11 10h4v1h-4zM28 10h10v1h-10zM12 11h4v1h-4zM28 11h2v1h-2zM34 11h10v1h-10zM13 12h4v1h-4zM29 12h1v1h-1zM35 12h9v1h-9zM14 13h4v1h-4zM29 13h1v1h-1zM37 13h7v1h-7zM16 14h3v1h-3zM28 14h1v1h-1zM17 15h4v1h-4zM28 15h1v1h-1zM18 16h10v1h-10zM18 43h1v1h-1zM16 44h1v1h-1zM13 46h1v1h-1zM22 46h1v1h-1zM12 47h1v1h-1zM10 48h1v1h-1zM9 49h1v1h-1zM22 49h1v1h-1zM8 50h1v1h-1zM19 50h2v1h-2zM15 51h1v1h-1zM7 52h1v1h-1zM16 52h2v1h-2zM21 52h1v1h-1zM6 53h1v1h-1zM0 54h4v1h-4zM5 54h2v1h-2zM0 55h7v1h-7zM0 56h7v1h-7zM3 57h2v1h-2zM9 57h2v1h-2zM22 57h1v1h-1zM22 58h1v1h-1zM13 59h1v1h-1zM22 59h1v1h-1zM12 60h1v1h-1zM22 60h1v1h-1zM0 61h7v1h-7zM11 61h1v1h-1zM22 61h1v1h-1zM22 62h1v1h-1zM22 63h1v1h-1zM22 64h1v1h-1zM22 65h1v1h-1zM22 66h1v1h-1zM23 67h1v1h-1zM23 68h3v1h-3zM24 69h2v1h-2zM24 70h3v1h-3zM26 71h3v1h-3zM27 72h2v1h-2zM28 73h2v1h-2zM29 74h2v1h-2zM30 75h3v1h-3zM31 76h2v1h-2zM32 77h2v1h-2zM33 78h2v1h-2zM34 79h3v1h-3zM35 80h2v1h-2zM36 81h2v1h-2zM37 82h7v1h-7zM38 83h6v1h-6z"/>
<path fill="#0050ff" d="M0 0h7v1h-7zM0 1h7v1h-7zM0 2h7v1h-7zM0 3h7v1h-7zM0 4h7v1h-7zM0 5h7v1h-7zM0 6h7v1h-7zM0 7h8v1h-8zM0 8h9v1h-9zM0 9h10v1h-10zM0 10h11v1h-11zM5 11h7v1h-7zM30 11h4v1h-4zM7 12h6v1h-6zM30 12h5v1h-5zM8 13h6v1h-6zM30 13h7v1h-7zM9 14h7v1h-7zM29 14h2v1h-2zM32 14h12v1h-12zM10 15h7v1h-7zM29 15h1v1h-1zM35 15h9v1h-9zM12 16h6v1h-6zM28 16h1v1h-1zM13 17h15v1h-15zM15 18h7v1h-7zM16 19h3v1h-3zM20 42h5v1h-5zM17 43h1v1h-1zM15 44h1v1h-1zM14 45h1v1h-1zM12 46h1v1h-1zM23 46h3v1h-3zM11 47h1v1h-1zM22 47h1v1h-1zM9 48h1v1h-1zM22 48h1v1h-1zM8 49h1v1h-1zM23 49h1v1h-1zM7 50h1v1h-1zM21 50h4v1h-4zM6 51h2v1h-2zM19 51h5v1h-5zM5 52h2v1h-2zM22 52h1v1h-1zM0 53h6v1h-6zM22 53h1v1h-1zM25 53h1v1h-1zM4 54h1v1h-1zM22 54h1v1h-1zM25 54h2v1h-2zM22 55h1v1h-1zM25 55h1v1h-1zM22 56h1v1h-1zM0 57h3v1h-3zM5 57h4v1h-4zM0 58h6v1h-6zM12 58h1v1h-1zM23 58h3v1h-3zM0 59h6v1h-6zM12 59h1v1h-1zM23 59h4v1h-4zM0 60h6v1h-6zM23 60h4v1h-4zM7 61h4v1h-4zM23 61h5v1h-5zM23 62h6v1h-6zM23 63h7v1h-7zM23 64h8v1h-8zM23 65h9v1h-9zM23 66h10v1h-10zM24 67h10v1h-10zM26 68h9v1h-9zM26 69h10v1h-10zM27 70h9v1h-9zM29 71h9v1h-9zM29 72h15v1h-15zM30 73h14v1h-14zM31 74h13v1h-13zM33 75h11v1h-11zM33 76h11v1h-11zM34 77h10v1h-10zM35 78h9v1h-9zM37 79h7v1h-7zM37 80h7v1h-7zM38 81h6v1h-6z"/>
<path fill="#0060ff" d="M0 11h5v1h-5zM0 12h7v1h-7zM0 13h8v1h-8zM0 14h9v1h-9zM31 14h1v1h-1zM0 15h10v1h-10zM30 15h5v1h-5zM0 16h12v1h-12zM29 16h15v1h-15zM0 17h13v1h-13zM28 17h16v1h-16zM0 18h15v1h-15zM22 18h22v1h-22zM0 19h16v1h-16zM19 19h7v1h-7zM33 19h3v1h-3zM0 20h23v1h-23zM33 20h3v1h-3zM0 21h21v1h-21zM34 21h1v1h-1zM0 22h17v1h-17zM0 23h14v1h-14zM0 24h11v1h-11zM8 25h2v1h-2zM19 42h1v1h-1zM25 42h1v1h-1zM16 43h1v1h-1zM14 44h1v1h-1zM26 44h1v1h-1zM13 45h1v1h-1zM26 45h1v1h-1zM11 46h1v1h-1zM10 47h1v1h-1zM8 48h1v1h-1zM25 48h2v1h-2zM7 49h1v1h-1zM24 49h4v1h-4zM6 50h1v1h-1zM18 50h1v1h-1zM25 50h4v1h-4zM0 51h6v1h-6zM18 51h1v1h-1zM24 51h6v1h-6zM0 52h5v1h-5zM23 52h8v1h-8zM23 53h2v1h-2zM26 53h6v1h-6zM23 54h2v1h-2zM27 54h5v1h-5zM23 55h2v1h-2zM26 55h7v1h-7zM23 56h12v1h-12zM23 57h13v1h-13zM6 58h1v1h-1zM11 58h1v1h-1zM26 58h10v1h-10zM6 59h1v1h-1zM27 59h10v1h-10zM6 60h2v1h-2zM11 60h1v1h-1zM27 60h17v1h-17zM28 61h16v1h-16zM29 62h15v1h-15zM30 63h14v1h-14zM31 64h13v1h-13zM32 65h12v1h-12zM33 66h11v1h-11zM34 67h10v1h-10zM35 68h9v1h-9zM36 69h8v1h-8zM36 70h8v1h-8zM38 71h6v1h-6z"/>
<path fill="#0070ff" d="M26 19h7v1h-7zM36 19h8v1h-8zM23 20h10v1h-10zM36 20h8v1h-8zM21 21h13v1h-13zM35 21h9v1h-9zM17 22h10v1h-10zM30 22h14v1h-14zM14 23h10v1h-10zM31 23h13v1h-13zM11 24h9v1h-9zM32 24h4v1h-4zM0 25h8v1h-8zM10 25h6v1h-6zM0 26h15v1h-15zM0 27h14v1h-14zM0 28h15v1h-15zM7 29h8v1h-8zM8 30h4v1h-4zM18 42h1v1h-1zM15 43h1v1h-1zM26 43h1v1h-1zM13 44h1v1h-1zM11 45h2v1h-2zM10 46h1v1h-1zM26 46h4v1h-4zM8 47h2v1h-2zM23 47h7v1h-7zM7 48h1v1h-1zM23 48h2v1h-2zM27 48h5v1h-5zM0 49h7v1h-7zM28 49h6v1h-6zM0 50h6v1h-6zM16 50h1v1h-1zM29 50h6v1h-6zM16 51h1v1h-1zM30 51h6v1h-6zM31 52h6v1h-6zM32 53h12v1h-12zM32 54h12v1h-12zM33 55h11v1h-11zM35 56h9v1h-9zM36 57h8v1h-8zM7 58h2v1h-2zM10 58h1v1h-1zM36 58h8v1h-8zM7 59h1v1h-1zM11 59h1v1h-1zM37 59h7v1h-7zM8 60h1v1h-1zM10 60h1v1h-1z"/>
<path fill="#0080ff" d="M27 22h3v1h-3zM24 23h7v1h-7zM20 24h12v1h-12zM36 24h8v1h-8zM16 25h28v1h-28zM15 26h14v1h-14zM31 26h5v1h-5zM14 27h14v1h-14zM15 28h12v1h-12zM0 29h7v1h-7zM15 29h11v1h-11zM0 30h8v1h-8zM12 30h13v1h-13zM0 31h13v1h-13zM17 42h1v1h-1zM26 42h1v1h-1zM14 43h1v1h-1zM11 44h2v1h-2zM29 44h2v1h-2zM9 45h2v1h-2zM27 45h5v1h-5zM8 46h2v1h-2zM30 46h3v1h-3zM0 47h8v1h-8zM30 47h4v1h-4zM0 48h7v1h-7zM32 48h3v1h-3zM34 49h3v1h-3zM17 50h1v1h-1zM35 50h4v1h-4zM41 50h3v1h-3zM17 51h1v1h-1zM36 51h8v1h-8zM37 52h7v1h-7zM9 58h1v1h-1zM8 59h1v1h-1zM10 59h1v1h-1zM9 60h1v1h-1z"/>
<path fill="#008fff" d="M29 26h2v1h-2zM36 26h8v1h-8zM28 27h8v1h-8zM27 28h5v1h-5zM26 29h4v1h-4zM25 30h4v1h-4zM13 31h13v1h-13zM0 32h13v1h-13zM0 33h8v1h-8zM0 34h7v1h-7zM0 35h7v1h-7zM0 36h7v1h-7zM27 40h1v1h-1zM20 41h9v1h-9zM15 42h2v1h-2zM27 42h4v1h-4zM12 43h2v1h-2zM27 43h5v1h-5zM9 44h2v1h-2zM27 44h2v1h-2zM31 44h2v1h-2zM0 45h9v1h-9zM32 45h3v1h-3zM0 46h8v1h-8zM33 46h2v1h-2zM34 47h2v1h-2zM35 48h3v1h-3zM37 49h7v1h-7zM39 50h2v1h-2zM9 59h1v1h-1z"/>
<path fill="#009fff" d="M36 27h8v1h-8zM32 28h5v1h-5zM30 29h4v1h-4zM29 30h3v1h-3zM26 31h6v1h-6zM13 32h5v1h-5zM26 32h6v1h-6zM8 33h5v1h-5zM27 33h5v1h-5zM7 34h6v1h-6zM28 34h3v1h-3zM7 35h5v1h-5zM7 36h4v1h-4zM0 37h10v1h-10zM27 37h1v1h-1zM0 38h9v1h-9zM27 38h2v1h-2zM0 39h8v1h-8zM27 39h2v1h-2zM0 40h7v1h-7zM26 40h1v1h-1zM28 40h4v1h-4zM0 41h7v1h-7zM12 41h2v1h-2zM19 41h1v1h-1zM29 41h3v1h-3zM0 42h15v1h-15zM31 42h2v1h-2zM0 43h12v1h-12zM32 43h3v1h-3zM0 44h9v1h-9zM33 44h3v1h-3zM35 45h2v1h-2zM35 46h3v1h-3zM36 47h8v1h-8zM38 48h6v1h-6z"/>
<path fill="#00afff" d="M37 28h7v1h-7zM34 29h3v1h-3zM32 30h4v1h-4zM32 31h3v1h-3zM18 32h8v1h-8zM32 32h4v1h-4zM13 33h6v1h-6zM20 33h2v1h-2zM25 33h2v1h-2zM32 33h4v1h-4zM13 34h6v1h-6zM26 34h2v1h-2zM31 34h6v1h-6zM12 35h6v1h-6zM26 35h11v1h-11zM11 36h4v1h-4zM26 36h11v1h-11zM10 37h3v1h-3zM26 37h1v1h-1zM28 37h10v1h-10zM9 38h3v1h-3zM26 38h1v1h-1zM29 38h15v1h-15zM8 39h5v1h-5zM26 39h1v1h-1zM29 39h15v1h-15zM7 40h8v1h-8zM32 40h12v1h-12zM7 41h5v1h-5zM14 41h5v1h-5zM32 41h12v1h-12zM33 42h11v1h-11zM35 43h9v1h-9zM36 44h8v1h-8zM37 45h7v1h-7zM38 46h6v1h-6z"/>
<path fill="#00bfff" d="M37 29h7v1h-7zM36 30h8v1h-8zM35 31h9v1h-9zM36 32h8v1h-8zM19 33h1v1h-1zM22 33h3v1h-3zM36 33h8v1h-8zM19 34h7v1h-7zM37 34h7v1h-7zM18 35h8v1h-8zM37 35h7v1h-7zM15 36h3v1h-3zM25 36h1v1h-1zM37 36h7v1h-7zM13 37h4v1h-4zM38 37h6v1h-6zM12 38h4v1h-4zM13 39h3v1h-3zM15 40h2v1h-2zM20 40h6v1h-6z"/>
<path fill="#00cfff" d="M18 36h7v1h-7zM17 37h2v1h-2zM22 37h4v1h-4zM16 38h1v1h-1zM25 38h1v1h-1zM16 39h1v1h-1zM25 39h1v1h-1zM17 40h3v1h-3z"/>
<path fill="#00dfff" d="M19 37h3v1h-3zM17 38h2v1h-2zM21 38h4v1h-4zM17 39h8v1h-8z"/>
<path fill="#00efff" d="M19 38h2v1h-2z"/>
</g>
</g>
<g filter="url(#sb)">
<ellipse cx="108.5" cy="317.0" rx="17.5" ry="9.0" transform="rotate(-25 108.5 317.0)" fill="#00c3ff" opacity="1.00"/>
<ellipse cx="108.2" cy="317.2" rx="12.5" ry="6.0" transform="rotate(-25 108.2 317.2)" fill="#1affe5" opacity="1.00"/>
<ellipse cx="108.0" cy="317.4" rx="9.5" ry="4.2" transform="rotate(-25 108.0 317.4)" fill="#91ff6e" opacity="1.00"/>
<ellipse cx="107.8" cy="317.5" rx="7.0" ry="3.0" transform="rotate(-25 107.8 317.5)" fill="#fff700" opacity="1.00"/>
<ellipse cx="106.4" cy="318.0" rx="3.6" ry="2.0" transform="rotate(-25 106.4 318.0)" fill="#ff0800" opacity="1.00"/>
</g>
</g>
</g>
<g stroke="#262626" stroke-opacity="0.125" stroke-width="1" shape-rendering="crispEdges">
<line x1="125.5" y1="40" x2="125.5" y2="480"/><line x1="172.5" y1="40" x2="172.5" y2="480"/><line x1="218.5" y1="40" x2="218.5" y2="480"/><line x1="265.5" y1="40" x2="265.5" y2="480"/><line x1="311.5" y1="40" x2="311.5" y2="480"/><line x1="358.5" y1="40" x2="358.5" y2="480"/><line x1="404.5" y1="40" x2="404.5" y2="480"/><line x1="451.5" y1="40" x2="451.5" y2="480"/><line x1="497.5" y1="40" x2="497.5" y2="480"/><line x1="544.5" y1="40" x2="544.5" y2="480"/><line x1="84" y1="43.5" x2="584" y2="43.5"/><line x1="84" y1="87.5" x2="584" y2="87.5"/><line x1="84" y1="131.5" x2="584" y2="131.5"/><line x1="84" y1="175.5" x2="584" y2="175.5"/><line x1="84" y1="220.5" x2="584" y2="220.5"/><line x1="84" y1="264.5" x2="584" y2="264.5"/><line x1="84" y1="308.5" x2="584" y2="308.5"/><line x1="84" y1="352.5" x2="584" y2="352.5"/><line x1="84" y1="396.5" x2="584" y2="396.5"/><line x1="84" y1="440.5" x2="584" y2="440.5"/>
</g>
<g stroke="#262626" stroke-width="1" shape-rendering="crispEdges">
<line x1="125.5" y1="480.0" x2="125.5" y2="476.0"/><line x1="125.5" y1="41.0" x2="125.5" y2="45.0"/><line x1="172.5" y1="480.0" x2="172.5" y2="476.0"/><line x1="172.5" y1="41.0" x2="172.5" y2="45.0"/><line x1="218.5" y1="480.0" x2="218.5" y2="476.0"/><line x1="218.5" y1="41.0" x2="218.5" y2="45.0"/><line x1="265.5" y1="480.0" x2="265.5" y2="476.0"/><line x1="265.5" y1="41.0" x2="265.5" y2="45.0"/><line x1="311.5" y1="480.0" x2="311.5" y2="476.0"/><line x1="311.5" y1="41.0" x2="311.5" y2="45.0"/><line x1="358.5" y1="480.0" x2="358.5" y2="476.0"/><line x1="358.5" y1="41.0" x2="358.5" y2="45.0"/><line x1="404.5" y1="480.0" x2="404.5" y2="476.0"/><line x1="404.5" y1="41.0" x2="404.5" y2="45.0"/><line x1="451.5" y1="480.0" x2="451.5" y2="476.0"/><line x1="451.5" y1="41.0" x2="451.5" y2="45.0"/><line x1="497.5" y1="480.0" x2="497.5" y2="476.0"/><line x1="497.5" y1="41.0" x2="497.5" y2="45.0"/><line x1="544.5" y1="480.0" x2="544.5" y2="476.0"/><line x1="544.5" y1="41.0" x2="544.5" y2="45.0"/><line x1="85.0" y1="43.5" x2="89.0" y2="43.5"/><line x1="584.0" y1="43.5" x2="580.0" y2="43.5"/><line x1="85.0" y1="87.5" x2="89.0" y2="87.5"/><line x1="584.0" y1="87.5" x2="580.0" y2="87.5"/><line x1="85.0" y1="131.5" x2="89.0" y2="131.5"/><line x1="584.0" y1="131.5" x2="580.0" y2="131.5"/><line x1="85.0" y1="175.5" x2="89.0" y2="175.5"/><line x1="584.0" y1="175.5" x2="580.0" y2="175.5"/><line x1="85.0" y1="220.5" x2="89.0" y2="220.5"/><line x1="584.0" y1="220.5" x2="580.0" y2="220.5"/><line x1="85.0" y1="264.5" x2="89.0" y2="264.5"/><line x1="584.0" y1="264.5" x2="580.0" y2="264.5"/><line x1="85.0" y1="308.5" x2="89.0" y2="308.5"/><line x1="584.0" y1="308.5" x2="580.0" y2="308.5"/><line x1="85.0" y1="352.5" x2="89.0" y2="352.5"/><line x1="584.0" y1="352.5" x2="580.0" y2="352.5"/><line x1="85.0" y1="396.5" x2="89.0" y2="396.5"/><line x1="584.0" y1="396.5" x2="580.0" y2="396.5"/><line x1="85.0" y1="440.5" x2="89.0" y2="440.5"/><line x1="584.0" y1="440.5" x2="580.0" y2="440.5"/>
</g>
<g id="logo">
<clipPath id="lgc"><rect x="460" y="400" width="124" height="79.5"/></clipPath>
<g clip-path="url(#lgc)">
<circle cx="521.7" cy="457.8" r="43.4" fill="#fcf5dc" stroke="#9a968c" stroke-width="0.6"/>
<g stroke="#2a2a2a" stroke-width="0.45" stroke-opacity="0.85" fill="none">
<path d="M544.6 439 L543 460 M557.7 439 L559.2 466 M549.2 440 L548.6 462 M553 440 L553.8 464"/>
<path d="M544.3 444.5 L558 444.5 M543.8 451.5 L558.5 451.5 M543.4 458 L558.8 458"/>
<path d="M544.3 444.5 L553.4 451.5 M558 444.5 L549 451.5 M543.8 451.5 L553.6 458 M558.5 451.5 L548.8 458"/>
</g>
<circle cx="551.4" cy="431.6" r="8.4" fill="#000"/>
<path d="M546.5 437.5 L556.3 437.5 L555 441 L547.8 441 Z" fill="#000"/>
<ellipse cx="495.2" cy="443.6" rx="10.5" ry="5.0" transform="rotate(-34 495.2 443.6)" fill="#000"/>
<path d="M491 437.2 L493.6 439.8 L491.2 440.4 Z" fill="#b9b4a6"/>
<path d="M505.4 439.6 Q509 436.6 513.6 436 L514.7 434.2 L515.9 436 Q521 436.2 524.6 438 Q523.5 444.5 518.5 447.4 L519.5 449.8 L510.5 449.8 L511.3 447.6 Q506.6 445 505.4 439.6 Z" fill="#000"/>
<path d="M470.4 479.5 L470.4 462.8 L497.6 458.2 L497.6 452 L499.2 452 L499.2 446.5 L501.2 446.5 L501.2 449.8 L521.4 449.8 L521.4 452.6 L524.4 452.6 L524.4 454.6 L530 454.6 L530 455.6 L538 457.6 L569.6 469.8 L569.6 479.5 Z" fill="#000"/>
</g>
<g font-family="Liberation Sans, sans-serif" font-weight="bold" font-size="11.4" fill="#f7f2e4" text-anchor="middle">
<text x="489.3" y="477.5">C</text><text x="502.4" y="477.5">I</text><text x="516.5" y="477.5">M</text><text x="532.7" y="477.5">S</text><text x="548" y="477.5">S</text>
</g>
</g>

<g stroke="#262626" stroke-width="1" shape-rendering="crispEdges">
<rect x="84.5" y="40.5" width="500" height="440" fill="none"/>
</g>
<g shape-rendering="crispEdges"><rect x="598" y="42.00" width="25" height="7.14" fill="#00008f"/><rect x="598" y="48.84" width="25" height="7.14" fill="#00009f"/><rect x="598" y="55.69" width="25" height="7.14" fill="#0000af"/><rect x="598" y="62.53" width="25" height="7.14" fill="#0000bf"/><rect x="598" y="69.38" width="25" height="7.14" fill="#0000cf"/><rect x="598" y="76.22" width="25" height="7.14" fill="#0000df"/><rect x="598" y="83.06" width="25" height="7.14" fill="#0000ef"/><rect x="598" y="89.91" width="25" height="7.14" fill="#0000ff"/><rect x="598" y="96.75" width="25" height="7.14" fill="#0010ff"/><rect x="598" y="103.59" width="25" height="7.14" fill="#0020ff"/><rect x="598" y="110.44" width="25" height="7.14" fill="#0030ff"/><rect x="598" y="117.28" width="25" height="7.14" fill="#0040ff"/><rect x="598" y="124.12" width="25" height="7.14" fill="#0050ff"/><rect x="598" y="130.97" width="25" height="7.14" fill="#0060ff"/><rect x="598" y="137.81" width="25" height="7.14" fill="#0070ff"/><rect x="598" y="144.66" width="25" height="7.14" fill="#0080ff"/><rect x="598" y="151.50" width="25" height="7.14" fill="#008fff"/><rect x="598" y="158.34" width="25" height="7.14" fill="#009fff"/><rect x="598" y="165.19" width="25" height="7.14" fill="#00afff"/><rect x="598" y="172.03" width="25" height="7.14" fill="#00bfff"/><rect x="598" y="178.88" width="25" height="7.14" fill="#00cfff"/><rect x="598" y="185.72" width="25" height="7.14" fill="#00dfff"/><rect x="598" y="192.56" width="25" height="7.14" fill="#00efff"/><rect x="598" y="199.41" width="25" height="7.14" fill="#00ffff"/><rect x="598" y="206.25" width="25" height="7.14" fill="#10ffef"/><rect x="598" y="213.09" width="25" height="7.14" fill="#20ffdf"/><rect x="598" y="219.94" width="25" height="7.14" fill="#30ffcf"/><rect x="598" y="226.78" width="25" height="7.14" fill="#40ffbf"/><rect x="598" y="233.62" width="25" height="7.14" fill="#50ffaf"/><rect x="598" y="240.47" width="25" height="7.14" fill="#60ff9f"/><rect x="598" y="247.31" width="25" height="7.14" fill="#70ff8f"/><rect x="598" y="254.16" width="25" height="7.14" fill="#80ff80"/><rect x="598" y="261.00" width="25" height="7.14" fill="#8fff70"/><rect x="598" y="267.84" width="25" height="7.14" fill="#9fff60"/><rect x="598" y="274.69" width="25" height="7.14" fill="#afff50"/><rect x="598" y="281.53" width="25" height="7.14" fill="#bfff40"/><rect x="598" y="288.38" width="25" height="7.14" fill="#cfff30"/><rect x="598" y="295.22" width="25" height="7.14" fill="#dfff20"/><rect x="598" y="302.06" width="25" height="7.14" fill="#efff10"/><rect x="598" y="308.91" width="25" height="7.14" fill="#ffff00"/><rect x="598" y="315.75" width="25" height="7.14" fill="#ffef00"/><rect x="598" y="322.59" width="25" height="7.14" fill="#ffdf00"/><rect x="598" y="329.44" width="25" height="7.14" fill="#ffcf00"/><rect x="598" y="336.28" width="25" height="7.14" fill="#ffbf00"/><rect x="598" y="343.12" width="25" height="7.14" fill="#ffaf00"/><rect x="598" y="349.97" width="25" height="7.14" fill="#ff9f00"/><rect x="598" y="356.81" width="25" height="7.14" fill="#ff8f00"/><rect x="598" y="363.66" width="25" height="7.14" fill="#ff8000"/><rect x="598" y="370.50" width="25" height="7.14" fill="#ff7000"/><rect x="598" y="377.34" width="25" height="7.14" fill="#ff6000"/><rect x="598" y="384.19" width="25" height="7.14" fill="#ff5000"/><rect x="598" y="391.03" width="25" height="7.14" fill="#ff4000"/><rect x="598" y="397.88" width="25" height="7.14" fill="#ff3000"/><rect x="598" y="404.72" width="25" height="7.14" fill="#ff2000"/><rect x="598" y="411.56" width="25" height="7.14" fill="#ff1000"/><rect x="598" y="418.41" width="25" height="7.14" fill="#ff0000"/><rect x="598" y="425.25" width="25" height="7.14" fill="#ef0000"/><rect x="598" y="432.09" width="25" height="7.14" fill="#df0000"/><rect x="598" y="438.94" width="25" height="7.14" fill="#cf0000"/><rect x="598" y="445.78" width="25" height="7.14" fill="#bf0000"/><rect x="598" y="452.62" width="25" height="7.14" fill="#af0000"/><rect x="598" y="459.47" width="25" height="7.14" fill="#9f0000"/><rect x="598" y="466.31" width="25" height="7.14" fill="#8f0000"/><rect x="598" y="473.16" width="25" height="7.14" fill="#800000"/></g>
<rect x="597.5" y="41.5" width="26" height="439" fill="none" stroke="#262626" stroke-width="1" shape-rendering="crispEdges"/>
<g stroke="#262626" stroke-width="1" shape-rendering="crispEdges">
<line x1="620" y1="114.5" x2="624" y2="114.5"/><line x1="620" y1="187.5" x2="624" y2="187.5"/><line x1="620" y1="261.5" x2="624" y2="261.5"/><line x1="620" y1="334.5" x2="624" y2="334.5"/><line x1="620" y1="407.5" x2="624" y2="407.5"/>
</g>
</svg>
<div class="t b" id="title" style="left:134.5px;top:14px;width:400px;text-align:center;font-size:17.5px;letter-spacing:0.5px;line-height:22px;">Dikeledi: 01-Jul-2025 00:00:00</div>
<div class="t b" id="vmax" style="left:94.2px;top:52.5px;font-size:16px;letter-spacing:0.62px;line-height:20px;">Vmax: 36 kts</div>
<div class="t b" id="away" style="left:376.2px;top:52.5px;width:200px;text-align:right;font-size:16px;letter-spacing:0.64px;line-height:20px;">22:37 away</div>
<div class="t xt" style="left:105.5px">74</div><div class="t xt" style="left:152.5px">75</div><div class="t xt" style="left:198.5px">76</div><div class="t xt" style="left:245.5px">77</div><div class="t xt" style="left:291.5px">78</div><div class="t xt" style="left:338.5px">79</div><div class="t xt" style="left:384.5px">80</div><div class="t xt" style="left:431.5px">81</div><div class="t xt" style="left:477.5px">82</div><div class="t xt" style="left:524.5px">83</div>
<div class="t yt" style="top:34.7px">-17</div><div class="t yt" style="top:78.8px">-18</div><div class="t yt" style="top:122.9px">-19</div><div class="t yt" style="top:167.0px">-20</div><div class="t yt" style="top:211.1px">-21</div><div class="t yt" style="top:255.2px">-22</div><div class="t yt" style="top:299.4px">-23</div><div class="t yt" style="top:343.5px">-24</div><div class="t yt" style="top:387.6px">-25</div><div class="t yt" style="top:431.7px">-26</div>
<div class="t ct" style="top:32.9px">280</div><div class="t ct" style="top:106.2px">260</div><div class="t ct" style="top:179.5px">240</div><div class="t ct" style="top:252.8px">220</div><div class="t ct" style="top:326.1px">200</div><div class="t ct" style="top:399.4px">180</div><div class="t ct" style="top:472.7px">160</div>
<div class="t" id="xlab" style="left:235px;top:510.5px;width:200px;text-align:center;font-size:17.6px;letter-spacing:1.2px;line-height:22px;">longitude</div>
<div class="t" id="ylab" style="left:-64px;top:249px;width:200px;text-align:center;font-size:17.6px;letter-spacing:1.2px;line-height:22px;transform:rotate(-90deg);">latitude</div>
<div class="t" id="clab" style="left:519.6px;top:253px;width:300px;text-align:center;font-size:13.3px;letter-spacing:0.17px;line-height:16px;transform:rotate(-90deg);">Brightness Temp - Horizontal Polarization</div>
</body></html>
